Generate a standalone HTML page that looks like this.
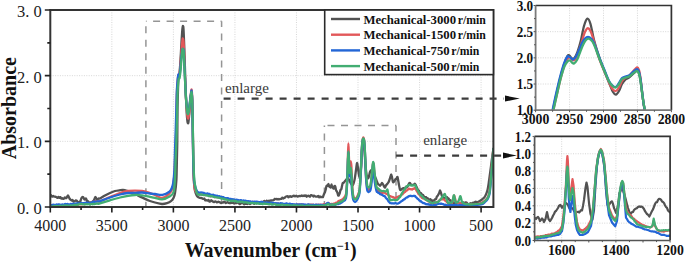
<!DOCTYPE html>
<html><head><meta charset="utf-8"><title>FTIR</title><style>
html,body{margin:0;padding:0;background:#fff;}
body{width:685px;height:262px;overflow:hidden;}
svg{display:block;}
text{font-family:"Liberation Serif", serif;}
</style></head><body>
<svg width="685" height="262" viewBox="0 0 685 262">
<defs>
<clipPath id="cm"><rect x="50.3" y="10" width="443.1" height="197"/></clipPath>
<clipPath id="ct"><rect x="535.6" y="5.5" width="135.8" height="104.7"/></clipPath>
<clipPath id="cb"><rect x="534.6" y="136.4" width="135.5" height="104.1"/></clipPath>
</defs>
<path d="M111.84 10 V207 M173.38 10 V207 M234.93 10 V207 M296.47 10 V207 M358.01 10 V207 M419.55 10 V207 M481.09 10 V207 M50.3 141.33 H493.4 M50.3 75.67 H493.4" stroke="#d2d2d2" stroke-width="0.9" stroke-dasharray="1 1.4" fill="none"/>
<path d="M145.9 21.2 H221.6" stroke="#959595" stroke-width="1.5" stroke-dasharray="7 6.5" fill="none" stroke-dashoffset="6.3"/>
<path d="M145.9 21.2 V207" stroke="#959595" stroke-width="1.5" stroke-dasharray="7 6.5" fill="none" stroke-dashoffset="8.5"/>
<path d="M221.6 21.2 V207" stroke="#959595" stroke-width="1.5" stroke-dasharray="7 6.5" fill="none" stroke-dashoffset="1.2"/>
<path d="M324.6 125.4 H396" stroke="#959595" stroke-width="1.5" stroke-dasharray="7 6.5" fill="none" stroke-dashoffset="10.6"/>
<path d="M324.4 125.4 V207" stroke="#959595" stroke-width="1.5" stroke-dasharray="7 6.5" fill="none" stroke-dashoffset="5.3"/>
<path d="M396 125.4 V207" stroke="#959595" stroke-width="1.5" stroke-dasharray="7 6.5" fill="none" stroke-dashoffset="0.8"/>
<path d="M50 195.5 C50.12 195.43 50.56 194.89 50.8 195.04 C51.04 195.2 51.36 196.3 51.6 196.53 C51.84 196.76 52.16 196.67 52.4 196.57 C52.64 196.47 52.96 195.87 53.2 195.86 C53.44 195.85 53.74 196.37 54 196.5 C54.26 196.63 54.64 196.66 54.92 196.71 C55.19 196.76 55.56 196.74 55.83 196.84 C56.11 196.95 56.48 197.27 56.75 197.42 C57.02 197.58 57.39 197.97 57.67 197.89 C57.94 197.8 58.31 196.87 58.58 196.85 C58.86 196.84 59.23 197.76 59.5 197.8 C59.77 197.84 60.13 196.96 60.4 197.09 C60.67 197.22 61.03 198.53 61.3 198.68 C61.57 198.84 61.93 198.08 62.2 198.1 C62.47 198.12 62.83 198.77 63.1 198.83 C63.37 198.89 63.74 198.71 64 198.5 C64.26 198.29 64.58 197.5 64.83 197.44 C65.08 197.37 65.42 197.98 65.67 198.07 C65.92 198.15 66.15 198.39 66.5 198 C66.85 197.61 67.55 195.43 68 195.5 C68.45 195.57 69.05 197.82 69.5 198.5 C69.95 199.18 70.66 199.69 71 200 C71.34 200.31 71.56 200.61 71.8 200.6 C72.04 200.59 72.36 199.79 72.6 199.91 C72.84 200.03 73.16 201.16 73.4 201.4 C73.64 201.64 73.96 201.58 74.2 201.52 C74.44 201.46 74.75 201.17 75 201 C75.25 200.83 75.58 200.43 75.83 200.37 C76.08 200.31 76.42 200.38 76.67 200.58 C76.92 200.78 77.25 201.41 77.5 201.72 C77.75 202.04 78.08 202.64 78.33 202.66 C78.58 202.68 78.92 201.92 79.17 201.87 C79.42 201.82 79.65 202.88 80 202.3 C80.35 201.72 81.05 198.8 81.5 198 C81.95 197.2 82.55 196.78 83 197 C83.45 197.22 84.05 199.28 84.5 199.5 C84.95 199.72 85.62 198.28 86 198.5 C86.38 198.72 86.7 200.59 87 201 C87.3 201.41 87.7 201.01 88 201.24 C88.3 201.46 88.72 202.28 89 202.5 C89.28 202.72 89.58 202.72 89.83 202.69 C90.08 202.67 90.42 202.2 90.67 202.32 C90.92 202.44 91.22 203.59 91.5 203.5 C91.78 203.41 92.2 202.12 92.5 201.75 C92.8 201.37 93.2 201.43 93.5 201 C93.8 200.57 94.2 199.49 94.5 198.89 C94.8 198.29 95.12 196.91 95.5 197 C95.88 197.09 96.62 199.18 97 199.5 C97.38 199.82 97.7 199.33 98 199.16 C98.3 198.99 98.7 198.45 99 198.35 C99.3 198.25 99.1 198.93 100 198.5 C100.9 198.07 103.5 196.32 105 195.5 C106.5 194.68 108.5 193.68 110 193 C111.5 192.32 113.5 191.42 115 191 C116.5 190.58 118.8 190.35 120 190.2 C121.2 190.05 121.95 189.91 123 190 C124.05 190.09 125.65 190.43 127 190.8 C128.35 191.18 130.5 191.87 132 192.5 C133.5 193.13 135.05 194.04 137 195 C138.95 195.96 143.05 198 145 198.9 C146.95 199.8 148.5 200.46 150 201 C151.5 201.54 153.2 202.05 155 202.5 C156.8 202.95 160.2 203.9 162 204 C163.8 204.1 165.65 203.62 167 203.2 C168.35 202.78 170.03 201.98 171 201.2 C171.97 200.42 172.9 199.23 173.5 198 C174.1 196.77 174.56 195.7 175 193 C175.44 190.3 176.12 184.95 176.4 180 C176.69 175.05 176.77 165.85 176.9 160 C177.03 154.15 177.21 148.5 177.3 141 C177.39 133.5 177.4 117.65 177.5 110 C177.6 102.35 177.85 95.1 178 90 C178.15 84.9 178.29 78.4 178.5 76 C178.71 73.6 179.1 76.4 179.4 74 C179.7 71.6 180.19 64.8 180.5 60 C180.81 55.2 181.23 46.5 181.5 42 C181.77 37.5 182.09 32.4 182.3 30 C182.51 27.6 182.72 26.15 182.9 26 C183.08 25.85 183.31 26.15 183.5 29 C183.69 31.85 183.99 39.45 184.2 45 C184.41 50.55 184.68 59.25 184.9 66 C185.12 72.75 185.44 83.25 185.7 90 C185.95 96.75 186.34 106.35 186.6 111 C186.85 115.65 187.15 119.2 187.4 121 C187.66 122.8 188.02 124.05 188.3 123 C188.59 121.95 189 117.45 189.3 114 C189.6 110.55 189.96 103.38 190.3 100 C190.65 96.62 191.31 91.5 191.6 91.5 C191.88 91.5 192.03 95.72 192.2 100 C192.36 104.28 192.58 113.85 192.7 120 C192.82 126.15 192.88 133.5 193 141 C193.12 148.5 193.28 162.95 193.5 170 C193.72 177.05 194.12 184.4 194.5 188 C194.88 191.6 195.58 192.72 196 194 C196.42 195.28 196.7 195.9 197.3 196.5 C197.9 197.1 199.46 197.8 200 198 C200.54 198.2 200.61 197.79 200.88 197.8 C201.14 197.81 201.49 197.92 201.75 198.07 C202.01 198.22 202.36 198.68 202.62 198.79 C202.89 198.9 203.24 198.8 203.5 198.77 C203.76 198.74 204.11 198.34 204.38 198.58 C204.64 198.81 204.99 200.1 205.25 200.33 C205.51 200.56 205.86 200.12 206.12 200.11 C206.39 200.11 206.75 200.22 207 200.3 C207.25 200.38 207.56 200.72 207.8 200.68 C208.04 200.63 208.36 199.84 208.6 199.97 C208.84 200.11 209.16 201.33 209.4 201.55 C209.64 201.76 209.96 201.63 210.2 201.43 C210.44 201.23 210.76 200.32 211 200.22 C211.24 200.11 211.56 200.52 211.8 200.72 C212.04 200.92 212.36 201.4 212.6 201.54 C212.84 201.68 213.16 201.55 213.4 201.64 C213.64 201.73 213.96 202.19 214.2 202.17 C214.44 202.14 214.75 201.6 215 201.5 C215.25 201.4 215.58 201.35 215.83 201.48 C216.08 201.6 216.42 202.23 216.67 202.33 C216.92 202.43 217.25 202.26 217.5 202.16 C217.75 202.05 218.08 201.6 218.33 201.61 C218.58 201.63 218.92 202.15 219.17 202.24 C219.42 202.33 219.75 202.1 220 202.2 C220.25 202.3 220.58 202.83 220.83 202.94 C221.08 203.05 221.42 203.01 221.67 202.92 C221.92 202.84 222.25 202.41 222.5 202.36 C222.75 202.31 223.08 202.67 223.33 202.56 C223.58 202.45 223.92 201.69 224.17 201.61 C224.42 201.53 224.75 201.82 225 202.04 C225.25 202.26 225.58 203.02 225.83 203.09 C226.08 203.15 226.42 202.6 226.67 202.45 C226.92 202.29 227.25 202.01 227.5 202.06 C227.75 202.11 228.08 202.63 228.33 202.79 C228.58 202.95 228.92 203.11 229.17 203.12 C229.42 203.12 229.75 202.79 230 202.8 C230.25 202.81 230.58 203.18 230.83 203.15 C231.08 203.13 231.42 202.7 231.67 202.65 C231.92 202.6 232.25 202.76 232.5 202.81 C232.75 202.85 233.08 202.87 233.33 202.97 C233.58 203.07 233.92 203.48 234.17 203.5 C234.42 203.51 234.75 203.16 235 203.07 C235.25 202.98 235.58 202.88 235.83 202.88 C236.08 202.88 236.42 203.18 236.67 203.09 C236.92 203.01 237.25 202.41 237.5 202.3 C237.75 202.19 238.08 202.17 238.33 202.37 C238.58 202.56 238.92 203.33 239.17 203.59 C239.42 203.86 239.75 204.15 240 204.14 C240.25 204.12 240.58 203.62 240.83 203.47 C241.08 203.33 241.42 203.26 241.67 203.15 C241.92 203.05 242.25 202.75 242.5 202.79 C242.75 202.83 243.08 203.2 243.33 203.43 C243.58 203.66 243.92 204.32 244.17 204.33 C244.42 204.34 244.75 203.56 245 203.5 C245.25 203.44 245.58 203.95 245.83 203.95 C246.08 203.94 246.42 203.48 246.67 203.49 C246.92 203.5 247.25 204.12 247.5 204.02 C247.75 203.93 248.08 202.96 248.33 202.85 C248.58 202.75 248.92 203.13 249.17 203.32 C249.42 203.5 249.75 204.06 250 204.06 C250.25 204.07 250.58 203.49 250.83 203.35 C251.08 203.2 251.42 203.19 251.67 203.09 C251.92 203 252.25 202.7 252.5 202.71 C252.75 202.72 253.08 203 253.33 203.17 C253.58 203.34 253.92 203.89 254.17 203.86 C254.42 203.84 254.74 203.28 255 203 C255.26 202.72 255.61 201.95 255.88 201.99 C256.14 202.02 256.49 203.08 256.75 203.26 C257.01 203.44 257.36 203.21 257.62 203.2 C257.89 203.19 258.24 203.25 258.5 203.2 C258.76 203.14 259.11 202.87 259.38 202.81 C259.64 202.75 259.99 202.9 260.25 202.81 C260.51 202.71 260.86 202.28 261.12 202.16 C261.39 202.04 261.75 202.03 262 202 C262.25 201.97 262.56 202.05 262.8 201.99 C263.04 201.93 263.36 201.8 263.6 201.63 C263.84 201.45 264.16 200.76 264.4 200.84 C264.64 200.92 264.96 202.08 265.2 202.19 C265.44 202.29 265.76 201.74 266 201.53 C266.24 201.31 266.56 200.79 266.8 200.74 C267.04 200.69 267.36 201.13 267.6 201.17 C267.84 201.21 268.16 201.09 268.4 201.01 C268.64 200.94 268.96 200.69 269.2 200.66 C269.44 200.63 269.76 200.85 270 200.8 C270.24 200.75 270.56 200.39 270.8 200.34 C271.04 200.3 271.36 200.49 271.6 200.51 C271.84 200.53 272.16 200.52 272.4 200.48 C272.64 200.45 272.96 200.38 273.2 200.28 C273.44 200.18 273.76 200.04 274 199.82 C274.24 199.61 274.56 198.99 274.8 198.87 C275.04 198.75 275.36 199.07 275.6 199.05 C275.84 199.04 276.16 198.74 276.4 198.78 C276.64 198.82 276.96 199.3 277.2 199.33 C277.44 199.37 277.75 198.98 278 199 C278.25 199.02 278.61 199.44 278.88 199.46 C279.14 199.49 279.49 199.24 279.75 199.16 C280.01 199.09 280.36 199.02 280.62 198.97 C280.89 198.92 281.24 199.02 281.5 198.82 C281.76 198.62 282.11 197.67 282.38 197.62 C282.64 197.57 282.99 198.43 283.25 198.49 C283.51 198.55 283.86 198.15 284.12 198 C284.39 197.85 284.74 197.71 285 197.5 C285.26 197.29 285.61 196.79 285.88 196.62 C286.14 196.46 286.49 196.44 286.75 196.38 C287.01 196.32 287.36 196.09 287.62 196.25 C287.89 196.41 288.24 197.43 288.5 197.46 C288.76 197.49 289.11 196.64 289.38 196.42 C289.64 196.21 289.99 195.98 290.25 196.05 C290.51 196.11 290.86 196.78 291.12 196.85 C291.39 196.92 291.75 196.6 292 196.5 C292.25 196.4 292.56 196.32 292.8 196.19 C293.04 196.06 293.36 195.72 293.6 195.67 C293.84 195.61 294.16 195.68 294.4 195.8 C294.64 195.91 294.96 196.44 295.2 196.43 C295.44 196.42 295.76 195.83 296 195.75 C296.24 195.67 296.56 195.77 296.8 195.91 C297.04 196.05 297.36 196.63 297.6 196.67 C297.84 196.71 298.16 196.29 298.4 196.18 C298.64 196.06 298.96 195.91 299.2 195.91 C299.44 195.91 299.75 196.17 300 196.2 C300.25 196.23 300.58 196.26 300.83 196.12 C301.08 195.98 301.42 195.31 301.67 195.28 C301.92 195.24 302.25 195.8 302.5 195.9 C302.75 195.99 303.08 195.99 303.33 195.92 C303.58 195.86 303.92 195.46 304.17 195.47 C304.42 195.48 304.75 196.02 305 196 C305.25 195.98 305.58 195.2 305.83 195.31 C306.08 195.43 306.42 196.64 306.67 196.75 C306.92 196.87 307.25 196.25 307.5 196.07 C307.75 195.89 308.08 195.51 308.33 195.54 C308.58 195.57 308.92 196.1 309.17 196.27 C309.42 196.44 309.75 196.82 310 196.67 C310.25 196.52 310.58 195.46 310.83 195.25 C311.08 195.04 311.42 195.23 311.67 195.27 C311.92 195.3 312.25 195.32 312.5 195.51 C312.75 195.71 313.08 196.55 313.33 196.56 C313.58 196.57 313.92 195.63 314.17 195.57 C314.42 195.52 314.75 196.04 315 196.2 C315.25 196.36 315.58 196.56 315.83 196.62 C316.08 196.68 316.42 196.65 316.67 196.62 C316.92 196.59 317.25 196.54 317.5 196.43 C317.75 196.32 318.08 195.77 318.33 195.9 C318.58 196.03 318.92 197.22 319.17 197.31 C319.42 197.4 319.73 196.52 320 196.5 C320.27 196.48 320.7 197.15 321 197.2 C321.3 197.26 321.7 196.89 322 196.86 C322.3 196.83 322.7 197.43 323 197 C323.3 196.57 323.7 194.75 324 194 C324.3 193.25 324.74 192.68 325 192 C325.26 191.32 325.52 190.34 325.75 189.44 C325.98 188.54 326.24 186.54 326.5 186 C326.76 185.46 327.2 186.17 327.5 185.87 C327.8 185.57 328.24 183.9 328.5 184 C328.76 184.1 329.02 186.11 329.25 186.56 C329.48 187.01 329.77 186.88 330 187 C330.23 187.12 330.52 187.72 330.75 187.34 C330.98 186.97 331.27 184.53 331.5 184.5 C331.73 184.47 332.02 186.59 332.25 187.11 C332.48 187.64 332.77 187.79 333 188 C333.23 188.21 333.52 188.82 333.75 188.52 C333.98 188.22 334.27 186.33 334.5 186 C334.73 185.67 335.02 185.7 335.25 186.3 C335.48 186.9 335.77 189.24 336 190 C336.23 190.76 336.52 190.93 336.75 191.38 C336.98 191.83 337.27 192.37 337.5 193 C337.73 193.63 338.02 195.3 338.25 195.6 C338.48 195.9 338.77 195.38 339 195 C339.23 194.62 339.52 193.79 339.75 193.04 C339.98 192.29 340.27 190.54 340.5 190 C340.73 189.46 341.02 190.04 341.25 189.44 C341.48 188.84 341.77 186.95 342 186 C342.23 185.05 342.52 183.56 342.75 183.11 C342.98 182.66 343.09 183.39 343.5 183 C343.91 182.61 344.82 181.25 345.5 180.5 C346.18 179.75 347.32 177.78 348 178 C348.68 178.22 349.32 180.88 350 182 C350.68 183.12 351.82 185.8 352.5 185.5 C353.18 185.2 353.98 182.32 354.5 180 C355.02 177.68 355.62 172.55 356 170 C356.38 167.45 356.7 163.3 357 163 C357.3 162.7 357.62 165.75 358 168 C358.38 170.25 359.05 178 359.5 178 C359.95 178 360.62 172.2 361 168 C361.38 163.8 361.67 153.9 362 150 C362.33 146.1 362.85 142.3 363.2 142 C363.55 141.7 363.95 144.55 364.3 148 C364.65 151.45 365.1 160.65 365.5 165 C365.9 169.35 366.55 175.05 367 177 C367.45 178.95 368.05 178.75 368.5 178 C368.95 177.25 369.55 173.2 370 172 C370.45 170.8 371.05 170.3 371.5 170 C371.95 169.7 372.55 169.25 373 170 C373.45 170.75 374.05 173.65 374.5 175 C374.95 176.35 375.62 177.98 376 179 C376.38 180.02 376.7 181.02 377 181.77 C377.3 182.52 377.7 183.56 378 184 C378.3 184.44 378.7 184.44 379 184.71 C379.3 184.98 379.7 185.83 380 185.8 C380.3 185.77 380.7 184.96 381 184.54 C381.3 184.12 381.7 183.04 382 183 C382.3 182.96 382.7 183.74 383 184.24 C383.3 184.75 383.7 185.85 384 186.37 C384.3 186.89 384.7 187.85 385 187.7 C385.3 187.55 385.7 185.86 386 185.34 C386.3 184.81 386.7 184.56 387 184.2 C387.3 183.85 387.69 183.49 388 183 C388.31 182.51 388.75 181.71 389.07 180.94 C389.39 180.17 389.81 178.87 390.13 177.88 C390.45 176.88 390.9 174.31 391.2 174.3 C391.5 174.29 391.83 176.65 392.1 177.8 C392.37 178.96 392.72 181.42 393 182 C393.28 182.58 393.7 181.95 394 181.65 C394.3 181.35 394.73 180.45 395 180 C395.27 179.55 395.58 178.84 395.83 178.66 C396.08 178.48 396.42 179.04 396.67 178.79 C396.92 178.54 397.15 176.07 397.5 177 C397.85 177.93 398.62 183.11 399 185 C399.38 186.89 399.73 188.87 400 189.6 C400.27 190.33 400.58 189.94 400.83 189.87 C401.08 189.8 401.42 189.3 401.67 189.12 C401.92 188.93 402.25 188.81 402.5 188.65 C402.75 188.49 403.08 187.93 403.33 188.05 C403.58 188.17 403.92 189.37 404.17 189.45 C404.42 189.53 404.75 188.99 405 188.6 C405.25 188.21 405.58 187.03 405.83 186.83 C406.08 186.64 406.42 187.34 406.67 187.31 C406.92 187.28 407.25 186.98 407.5 186.63 C407.75 186.28 408.08 185.49 408.33 184.99 C408.58 184.5 408.92 183.64 409.17 183.34 C409.42 183.04 409.75 182.85 410 183 C410.25 183.15 410.58 184 410.83 184.33 C411.08 184.66 411.42 185.09 411.67 185.19 C411.92 185.29 412.25 185.03 412.5 185 C412.75 184.97 413.08 185.08 413.33 184.97 C413.58 184.85 413.92 184.39 414.17 184.22 C414.42 184.04 414.73 183.59 415 183.8 C415.27 184.01 415.7 185.07 416 185.65 C416.3 186.23 416.7 187 417 187.66 C417.3 188.31 417.73 189.58 418 190 C418.27 190.42 418.56 190.12 418.8 190.47 C419.04 190.82 419.36 191.95 419.6 192.31 C419.84 192.67 420.16 192.71 420.4 192.88 C420.64 193.05 420.96 193.13 421.2 193.45 C421.44 193.77 421.73 194.77 422 195 C422.27 195.23 422.7 194.71 423 194.95 C423.3 195.2 423.7 196.33 424 196.63 C424.3 196.94 424.72 196.92 425 197 C425.28 197.08 425.61 196.98 425.88 197.13 C426.14 197.28 426.49 197.84 426.75 198 C427.01 198.16 427.36 197.94 427.62 198.19 C427.89 198.44 428.24 199.36 428.5 199.67 C428.76 199.97 429.11 200.3 429.38 200.22 C429.64 200.14 429.99 199.17 430.25 199.13 C430.51 199.09 430.86 199.68 431.12 199.96 C431.39 200.24 431.75 200.95 432 201 C432.25 201.05 432.56 200.28 432.8 200.29 C433.04 200.3 433.36 201.07 433.6 201.08 C433.84 201.08 434.16 200.6 434.4 200.31 C434.64 200.01 434.96 199.31 435.2 199.11 C435.44 198.91 435.76 199.35 436 199 C436.24 198.65 436.56 197.25 436.8 196.78 C437.04 196.32 437.36 196.26 437.6 195.91 C437.84 195.57 438.16 194.95 438.4 194.51 C438.64 194.07 438.96 193.58 439.2 192.98 C439.44 192.38 439.73 190.5 440 190.5 C440.27 190.5 440.7 192.14 441 192.97 C441.3 193.79 441.7 195.29 442 196 C442.3 196.71 442.7 197.39 443 197.69 C443.3 197.99 443.7 197.95 444 198 C444.3 198.05 444.7 198.11 445 198 C445.3 197.9 445.7 197.46 446 197.31 C446.3 197.15 446.73 196.76 447 197 C447.27 197.24 447.58 198.65 447.83 198.87 C448.08 199.1 448.42 198.29 448.67 198.52 C448.92 198.75 449.25 200.15 449.5 200.41 C449.75 200.67 450.08 200.1 450.33 200.25 C450.58 200.4 450.92 200.99 451.17 201.41 C451.42 201.82 451.75 202.65 452 203 C452.25 203.35 452.56 203.82 452.8 203.74 C453.04 203.66 453.36 202.52 453.6 202.48 C453.84 202.44 454.16 203.36 454.4 203.47 C454.64 203.57 454.96 203.16 455.2 203.18 C455.44 203.2 455.76 203.68 456 203.61 C456.24 203.55 456.56 202.9 456.8 202.76 C457.04 202.63 457.36 202.73 457.6 202.71 C457.84 202.69 458.16 202.48 458.4 202.62 C458.64 202.77 458.96 203.6 459.2 203.66 C459.44 203.72 459.75 203.06 460 203 C460.25 202.94 460.58 203.09 460.83 203.23 C461.08 203.36 461.42 203.81 461.67 203.9 C461.92 203.99 462.25 204.03 462.5 203.82 C462.75 203.61 463.08 202.59 463.33 202.51 C463.58 202.43 463.92 203.3 464.17 203.3 C464.42 203.3 464.75 202.66 465 202.54 C465.25 202.41 465.58 202.46 465.83 202.46 C466.08 202.47 466.42 202.33 466.67 202.57 C466.92 202.8 467.25 203.83 467.5 204.03 C467.75 204.24 468.08 203.93 468.33 203.94 C468.58 203.94 468.92 204.11 469.17 204.05 C469.42 203.98 469.75 203.65 470 203.5 C470.25 203.35 470.56 203.08 470.8 203.06 C471.04 203.05 471.36 203.33 471.6 203.41 C471.84 203.48 472.16 203.67 472.4 203.56 C472.64 203.45 472.96 202.78 473.2 202.68 C473.44 202.58 473.76 202.96 474 202.88 C474.24 202.79 474.56 202.28 474.8 202.1 C475.04 201.93 475.36 201.73 475.6 201.7 C475.84 201.66 476.16 201.71 476.4 201.88 C476.64 202.05 476.96 202.84 477.2 202.85 C477.44 202.87 477.28 202.5 478 202 C478.72 201.5 480.95 200.32 482 199.5 C483.05 198.68 484.18 197.93 485 196.5 C485.82 195.07 486.9 192.32 487.5 190 C488.1 187.68 488.55 184 489 181 C489.45 178 490.08 173.15 490.5 170 C490.92 166.85 491.35 163.3 491.8 160 C492.25 156.7 493.25 149.8 493.5 148" stroke="#525252" stroke-width="2.3" fill="none" stroke-linejoin="round" clip-path="url(#cm)"/>
<path d="M50 205.8 C50.12 205.77 50.57 205.64 50.81 205.59 C51.05 205.54 51.37 205.42 51.62 205.46 C51.86 205.49 52.18 205.82 52.42 205.82 C52.67 205.83 52.99 205.51 53.23 205.5 C53.47 205.48 53.8 205.75 54.04 205.73 C54.28 205.71 54.6 205.34 54.85 205.37 C55.09 205.4 55.41 205.88 55.65 205.92 C55.9 205.97 56.22 205.76 56.46 205.68 C56.7 205.59 57.03 205.45 57.27 205.38 C57.51 205.31 57.83 205.14 58.08 205.19 C58.32 205.23 58.64 205.62 58.88 205.7 C59.13 205.78 59.45 205.77 59.69 205.71 C59.93 205.65 60.26 205.38 60.5 205.29 C60.74 205.19 61.07 205.04 61.31 205.09 C61.55 205.15 61.87 205.6 62.12 205.67 C62.36 205.75 62.68 205.65 62.92 205.58 C63.17 205.52 63.49 205.34 63.73 205.25 C63.97 205.16 64.3 204.95 64.54 204.97 C64.78 204.99 65.1 205.31 65.35 205.39 C65.59 205.47 65.91 205.57 66.15 205.51 C66.4 205.46 66.72 205.09 66.96 205.01 C67.2 204.94 67.53 204.98 67.77 205.03 C68.01 205.08 68.33 205.32 68.58 205.35 C68.82 205.38 69.14 205.24 69.38 205.24 C69.63 205.23 69.95 205.36 70.19 205.32 C70.43 205.29 70.76 205.04 71 205 C71.24 204.96 71.56 205.07 71.8 205.03 C72.04 204.98 72.36 204.68 72.6 204.69 C72.84 204.71 73.16 205.09 73.4 205.14 C73.64 205.18 73.96 205 74.2 204.98 C74.44 204.95 74.76 205.02 75 204.96 C75.24 204.89 75.56 204.6 75.8 204.52 C76.04 204.45 76.36 204.39 76.6 204.44 C76.84 204.49 77.16 204.8 77.4 204.85 C77.64 204.9 77.96 204.87 78.2 204.76 C78.44 204.65 78.76 204.23 79 204.12 C79.24 204.01 79.56 204.06 79.8 204.05 C80.04 204.03 80.36 203.98 80.6 204.02 C80.84 204.07 81.16 204.34 81.4 204.33 C81.64 204.33 81.96 204.06 82.2 203.99 C82.44 203.92 82.76 203.86 83 203.87 C83.24 203.88 83.56 203.99 83.8 204.05 C84.04 204.12 84.36 204.33 84.6 204.3 C84.84 204.28 85.16 204.02 85.4 203.91 C85.64 203.8 85.96 203.58 86.2 203.57 C86.44 203.55 86.73 203.78 87 203.8 C87.27 203.82 87.7 203.66 88 203.68 C88.3 203.7 88.7 203.85 89 203.93 C89.3 204 89.73 204.26 90 204.2 C90.27 204.14 90.56 203.74 90.8 203.54 C91.04 203.35 91.36 203.1 91.6 202.92 C91.84 202.73 92.16 202.44 92.4 202.29 C92.64 202.14 92.96 202.05 93.2 201.93 C93.44 201.81 93.75 201.6 94 201.5 C94.25 201.4 94.6 201.31 94.86 201.27 C95.11 201.23 95.46 201.26 95.71 201.24 C95.97 201.21 96.31 201.09 96.57 201.12 C96.83 201.15 97.17 201.37 97.43 201.43 C97.69 201.49 98.03 201.57 98.29 201.54 C98.54 201.51 98.89 201.26 99.14 201.22 C99.4 201.19 98.37 201.93 100 201.3 C101.63 200.67 107 198.25 110 197 C113 195.75 117.3 193.9 120 193 C122.7 192.1 125.75 191.36 128 191 C130.25 190.64 132.9 190.6 135 190.6 C137.1 190.6 140.2 190.79 142 191 C143.8 191.21 145.05 191.4 147 192 C148.95 192.6 152.75 194.13 155 195 C157.25 195.87 159.9 197.95 162 197.8 C164.1 197.65 167.41 195.47 169 194 C170.59 192.53 171.81 190.85 172.6 188 C173.39 185.15 173.94 179.2 174.3 175 C174.66 170.8 174.76 165.1 175 160 C175.24 154.9 175.69 147 175.9 141 C176.11 135 176.27 126.9 176.4 120 C176.53 113.1 176.61 101 176.8 95 C177 89 177.44 83 177.7 80 C177.95 77 178.25 75.75 178.5 75 C178.75 74.25 179.1 76.65 179.4 75 C179.7 73.35 180.19 67.75 180.5 64 C180.81 60.25 181.2 53.6 181.5 50 C181.8 46.4 182.29 41.73 182.5 40 C182.71 38.27 182.75 38.35 182.9 38.5 C183.05 38.65 183.31 38.67 183.5 41 C183.69 43.33 183.99 49.05 184.2 54 C184.41 58.95 184.68 68 184.9 74 C185.12 80 185.44 88.9 185.7 94 C185.95 99.1 186.34 104.7 186.6 108 C186.85 111.3 187.16 114.42 187.4 116 C187.64 117.58 187.91 119.1 188.2 118.5 C188.48 117.9 188.96 115.22 189.3 112 C189.65 108.78 190.16 100.38 190.5 97 C190.84 93.62 191.33 89.05 191.6 89.5 C191.87 89.95 192.12 93.92 192.3 100 C192.48 106.08 192.67 121 192.8 130 C192.94 139 193.05 152.5 193.2 160 C193.35 167.5 193.53 175.5 193.8 180 C194.07 184.5 194.47 188.05 195 190 C195.53 191.95 196.55 192.32 197.3 193 C198.05 193.68 199.46 194.31 200 194.5 C200.54 194.69 200.61 194.28 200.88 194.29 C201.14 194.3 201.49 194.56 201.75 194.57 C202.01 194.59 202.36 194.4 202.62 194.39 C202.89 194.38 203.24 194.46 203.5 194.49 C203.76 194.53 204.11 194.55 204.38 194.65 C204.64 194.75 204.99 195.16 205.25 195.16 C205.51 195.15 205.86 194.65 206.12 194.63 C206.39 194.6 206.75 194.92 207 195 C207.25 195.08 207.56 195.18 207.8 195.19 C208.04 195.2 208.36 195.01 208.6 195.06 C208.84 195.11 209.16 195.34 209.4 195.5 C209.64 195.66 209.96 196.03 210.2 196.14 C210.44 196.25 210.76 196.23 211 196.24 C211.24 196.25 211.56 196.18 211.8 196.18 C212.04 196.18 212.36 196.2 212.6 196.23 C212.84 196.27 213.16 196.35 213.4 196.43 C213.64 196.52 213.96 196.75 214.2 196.83 C214.44 196.92 214.75 196.97 215 197 C215.25 197.03 215.58 197.04 215.83 197.04 C216.08 197.04 216.42 197.02 216.67 197 C216.92 196.98 217.25 196.84 217.5 196.92 C217.75 197 218.08 197.4 218.33 197.53 C218.58 197.66 218.92 197.77 219.17 197.77 C219.42 197.76 219.75 197.47 220 197.5 C220.25 197.53 220.58 197.94 220.83 197.99 C221.08 198.04 221.42 197.85 221.67 197.84 C221.92 197.83 222.25 197.92 222.5 197.93 C222.75 197.94 223.08 197.79 223.33 197.9 C223.58 198.01 223.92 198.59 224.17 198.68 C224.42 198.76 224.75 198.5 225 198.46 C225.25 198.41 225.58 198.26 225.83 198.37 C226.08 198.47 226.42 199.05 226.67 199.16 C226.92 199.27 227.25 199.08 227.5 199.11 C227.75 199.13 228.08 199.3 228.33 199.34 C228.58 199.37 228.92 199.33 229.17 199.36 C229.42 199.38 229.75 199.49 230 199.5 C230.25 199.51 230.56 199.34 230.8 199.4 C231.04 199.46 231.36 199.83 231.6 199.91 C231.84 200 232.16 199.97 232.4 199.97 C232.64 199.97 232.96 199.86 233.2 199.91 C233.44 199.96 233.76 200.31 234 200.31 C234.24 200.3 234.56 199.84 234.8 199.88 C235.04 199.91 235.36 200.45 235.6 200.52 C235.84 200.59 236.16 200.42 236.4 200.36 C236.64 200.3 236.96 200.07 237.2 200.13 C237.44 200.18 237.76 200.63 238 200.74 C238.24 200.84 238.56 200.83 238.8 200.85 C239.04 200.88 239.36 200.94 239.6 200.92 C239.84 200.91 240.16 200.75 240.4 200.76 C240.64 200.77 240.96 200.93 241.2 200.97 C241.44 201.02 241.76 201.03 242 201.07 C242.24 201.12 242.56 201.24 242.8 201.25 C243.04 201.26 243.36 201.17 243.6 201.14 C243.84 201.11 244.16 201.01 244.4 201.03 C244.64 201.06 244.96 201.23 245.2 201.29 C245.44 201.34 245.76 201.4 246 201.4 C246.24 201.4 246.56 201.27 246.8 201.28 C247.04 201.29 247.36 201.38 247.6 201.47 C247.84 201.57 248.16 201.85 248.4 201.92 C248.64 201.98 248.96 201.9 249.2 201.91 C249.44 201.92 249.76 202.01 250 202 C250.24 201.99 250.57 201.78 250.81 201.84 C251.05 201.89 251.38 202.35 251.62 202.35 C251.86 202.35 252.19 201.92 252.43 201.85 C252.68 201.77 253 201.79 253.24 201.87 C253.49 201.95 253.81 202.27 254.05 202.38 C254.3 202.49 254.62 202.56 254.86 202.6 C255.11 202.64 255.43 202.64 255.68 202.63 C255.92 202.62 256.24 202.56 256.49 202.53 C256.73 202.5 257.05 202.48 257.3 202.45 C257.54 202.43 257.86 202.3 258.11 202.37 C258.35 202.44 258.68 202.84 258.92 202.9 C259.16 202.96 259.49 202.82 259.73 202.76 C259.97 202.7 260.3 202.45 260.54 202.49 C260.78 202.53 261.11 202.95 261.35 203.02 C261.59 203.1 261.92 202.96 262.16 202.98 C262.41 203.01 262.73 203.22 262.97 203.19 C263.22 203.17 263.54 202.87 263.78 202.83 C264.03 202.79 264.35 202.89 264.59 202.93 C264.84 202.97 265.16 203.08 265.41 203.08 C265.65 203.08 265.97 202.95 266.22 202.94 C266.46 202.93 266.78 202.91 267.03 202.99 C267.27 203.08 267.59 203.42 267.84 203.49 C268.08 203.56 268.41 203.46 268.65 203.47 C268.89 203.48 269.22 203.56 269.46 203.57 C269.7 203.58 270.03 203.54 270.27 203.53 C270.51 203.52 270.84 203.57 271.08 203.51 C271.32 203.45 271.65 203.1 271.89 203.14 C272.14 203.17 272.46 203.7 272.7 203.74 C272.95 203.77 273.27 203.36 273.51 203.36 C273.76 203.35 274.08 203.65 274.32 203.71 C274.57 203.78 274.89 203.81 275.14 203.78 C275.38 203.75 275.7 203.5 275.95 203.52 C276.19 203.54 276.51 203.93 276.76 203.93 C277 203.94 277.32 203.59 277.57 203.54 C277.81 203.5 278.14 203.53 278.38 203.62 C278.62 203.71 278.95 204.07 279.19 204.13 C279.43 204.19 279.76 204.03 280 204 C280.24 203.97 280.56 203.9 280.8 203.9 C281.04 203.91 281.36 204.02 281.6 204.06 C281.84 204.1 282.16 204.17 282.4 204.18 C282.64 204.19 282.96 204.11 283.2 204.14 C283.44 204.17 283.76 204.35 284 204.39 C284.24 204.42 284.56 204.44 284.8 204.39 C285.04 204.33 285.36 204.09 285.6 204.03 C285.84 203.96 286.16 203.91 286.4 203.94 C286.64 203.97 286.96 204.14 287.2 204.24 C287.44 204.33 287.76 204.6 288 204.58 C288.24 204.57 288.56 204.13 288.8 204.13 C289.04 204.12 289.36 204.51 289.6 204.54 C289.84 204.57 290.16 204.31 290.4 204.33 C290.64 204.36 290.96 204.74 291.2 204.71 C291.44 204.68 291.76 204.18 292 204.11 C292.24 204.04 292.56 204.15 292.8 204.24 C293.04 204.32 293.36 204.58 293.6 204.67 C293.84 204.76 294.16 204.81 294.4 204.84 C294.64 204.87 294.96 204.85 295.2 204.85 C295.44 204.84 295.76 204.87 296 204.81 C296.24 204.75 296.56 204.46 296.8 204.44 C297.04 204.41 297.36 204.66 297.6 204.64 C297.84 204.62 298.16 204.3 298.4 204.3 C298.64 204.3 298.96 204.59 299.2 204.65 C299.44 204.71 299.76 204.69 300 204.7 C300.24 204.71 300.56 204.75 300.8 204.71 C301.04 204.67 301.36 204.47 301.6 204.44 C301.84 204.41 302.16 204.43 302.4 204.52 C302.64 204.6 302.96 204.97 303.2 205.01 C303.44 205.05 303.76 204.8 304 204.78 C304.24 204.77 304.56 204.85 304.8 204.89 C305.04 204.93 305.36 205 305.6 205.03 C305.84 205.06 306.16 205.09 306.4 205.1 C306.64 205.12 306.96 205.19 307.2 205.12 C307.44 205.05 307.76 204.67 308 204.64 C308.24 204.6 308.56 204.92 308.8 204.91 C309.04 204.9 309.36 204.58 309.6 204.55 C309.84 204.51 310.16 204.64 310.4 204.67 C310.64 204.71 310.96 204.8 311.2 204.78 C311.44 204.77 311.76 204.58 312 204.56 C312.24 204.54 312.56 204.56 312.8 204.63 C313.04 204.7 313.36 204.92 313.6 205 C313.84 205.08 314.16 205.16 314.4 205.14 C314.64 205.11 314.96 204.91 315.2 204.84 C315.44 204.78 315.76 204.67 316 204.7 C316.24 204.73 316.56 205.05 316.8 205.06 C317.04 205.06 317.36 204.69 317.6 204.72 C317.84 204.75 318.16 205.25 318.4 205.24 C318.64 205.23 318.96 204.69 319.2 204.65 C319.44 204.62 319.75 205 320 205 C320.25 205 320.6 204.66 320.86 204.66 C321.11 204.67 321.46 205 321.71 205 C321.97 205.01 322.31 204.82 322.57 204.72 C322.83 204.61 323.17 204.41 323.43 204.3 C323.69 204.19 324.03 203.99 324.29 203.98 C324.54 203.98 324.89 204.24 325.14 204.24 C325.4 204.25 325.72 204.12 326 204 C326.28 203.88 326.7 203.62 327 203.47 C327.3 203.32 327.7 203.02 328 203 C328.3 202.98 328.7 203.14 329 203.34 C329.3 203.53 329.73 204.13 330 204.3 C330.27 204.47 330.58 204.55 330.83 204.46 C331.08 204.38 331.42 203.81 331.67 203.76 C331.92 203.7 332.25 204.08 332.5 204.08 C332.75 204.08 333.08 203.81 333.33 203.75 C333.58 203.7 333.92 203.78 334.17 203.75 C334.42 203.71 334.75 203.65 335 203.5 C335.25 203.35 335.58 202.83 335.83 202.72 C336.08 202.61 336.42 202.81 336.67 202.75 C336.92 202.7 337.25 202.58 337.5 202.34 C337.75 202.1 338.08 201.37 338.33 201.16 C338.58 200.94 338.92 201 339.17 200.9 C339.42 200.8 339.73 200.62 340 200.5 C340.27 200.38 340.7 200.24 341 200.09 C341.3 199.95 341.7 199.7 342 199.54 C342.3 199.37 342.4 199.83 343 199 C343.6 198.17 345.37 197.15 346 194 C346.63 190.85 346.91 183.7 347.2 178 C347.49 172.3 347.72 161.19 347.9 156 C348.08 150.81 348.25 143.4 348.4 143.4 C348.55 143.4 348.73 152.31 348.9 156 C349.06 159.69 349.32 166.5 349.5 168 C349.68 169.5 349.91 167 350.1 166 C350.3 165 350.61 161.3 350.8 161.3 C351 161.3 351.19 162.44 351.4 166 C351.61 169.56 351.91 180.5 352.2 185 C352.49 189.5 352.84 193.97 353.3 196 C353.76 198.03 354.67 198.5 355.3 198.5 C355.93 198.5 356.87 197.28 357.5 196 C358.13 194.72 359 193.6 359.5 190 C360 186.4 360.45 178 360.8 172 C361.15 166 361.53 154.8 361.8 150 C362.07 145.2 362.38 141.88 362.6 140 C362.83 138.12 363.07 137.5 363.3 137.5 C363.53 137.5 363.86 137.82 364.1 140 C364.34 142.18 364.63 146.75 364.9 152 C365.17 157.25 365.55 169.6 365.9 175 C366.25 180.4 366.81 185.75 367.2 188 C367.59 190.25 368 190.3 368.5 190 C369 189.7 369.94 188.7 370.5 186 C371.06 183.3 371.85 175.15 372.2 172 C372.55 168.85 372.63 166.35 372.8 165 C372.97 163.65 373.13 162.7 373.3 163 C373.47 163.3 373.67 164.75 373.9 167 C374.12 169.25 374.41 174.7 374.8 178 C375.19 181.3 376.11 187.18 376.5 189 C376.89 190.82 377.11 189.87 377.38 190.14 C377.64 190.4 377.99 190.57 378.25 190.77 C378.51 190.98 378.86 191.26 379.12 191.51 C379.39 191.77 379.74 192.29 380 192.5 C380.26 192.71 380.58 192.93 380.83 192.93 C381.08 192.94 381.42 192.54 381.67 192.53 C381.92 192.52 382.25 192.81 382.5 192.84 C382.75 192.86 383.08 192.75 383.33 192.71 C383.58 192.67 383.92 192.54 384.17 192.58 C384.42 192.62 384.75 192.86 385 193 C385.25 193.14 385.58 193.4 385.83 193.55 C386.08 193.69 386.42 193.85 386.67 193.95 C386.92 194.04 387.25 193.97 387.5 194.16 C387.75 194.36 388.08 195.01 388.33 195.23 C388.58 195.45 388.92 195.5 389.17 195.62 C389.42 195.73 389.75 195.86 390 196 C390.25 196.14 390.58 196.42 390.83 196.52 C391.08 196.62 391.42 196.58 391.67 196.67 C391.92 196.75 392.25 197.01 392.5 197.08 C392.75 197.16 393.08 197.07 393.33 197.16 C393.58 197.24 393.92 197.53 394.17 197.66 C394.42 197.79 394.75 197.99 395 198 C395.25 198.01 395.58 197.84 395.83 197.74 C396.08 197.64 396.42 197.44 396.67 197.33 C396.92 197.22 397.25 197.11 397.5 197 C397.75 196.89 398.08 196.73 398.33 196.6 C398.58 196.47 398.92 196.2 399.17 196.11 C399.42 196.02 399.75 196.15 400 196 C400.25 195.85 400.58 195.35 400.83 195.12 C401.08 194.9 401.42 194.63 401.67 194.51 C401.92 194.39 402.25 194.54 402.5 194.33 C402.75 194.12 403.08 193.37 403.33 193.1 C403.58 192.83 403.92 192.71 404.17 192.55 C404.42 192.38 404.75 192.23 405 192 C405.25 191.77 405.56 191.24 405.8 191.02 C406.04 190.8 406.36 190.66 406.6 190.53 C406.84 190.39 407.16 190.31 407.4 190.1 C407.64 189.88 407.96 189.34 408.2 189.12 C408.44 188.89 408.73 188.58 409 188.6 C409.27 188.62 409.7 189.15 410 189.23 C410.3 189.31 410.7 189.08 411 189.12 C411.3 189.16 411.7 189.56 412 189.5 C412.3 189.44 412.7 188.85 413 188.74 C413.3 188.63 413.7 188.86 414 188.75 C414.3 188.64 414.7 187.88 415 188 C415.3 188.12 415.7 189.04 416 189.54 C416.3 190.03 416.7 190.79 417 191.31 C417.3 191.82 417.73 192.56 418 193 C418.27 193.44 418.56 193.95 418.8 194.24 C419.04 194.52 419.36 194.58 419.6 194.87 C419.84 195.17 420.16 195.94 420.4 196.21 C420.64 196.48 420.96 196.43 421.2 196.7 C421.44 196.96 421.73 197.76 422 198 C422.27 198.24 422.7 198.23 423 198.31 C423.3 198.38 423.7 198.37 424 198.48 C424.3 198.58 424.72 198.79 425 199 C425.28 199.21 425.61 199.7 425.88 199.85 C426.14 200.01 426.49 199.86 426.75 200.02 C427.01 200.17 427.36 200.68 427.62 200.89 C427.89 201.1 428.24 201.3 428.5 201.4 C428.76 201.5 429.11 201.37 429.38 201.56 C429.64 201.75 429.99 202.42 430.25 202.65 C430.51 202.88 430.86 202.97 431.12 203.1 C431.39 203.22 431.74 203.49 432 203.5 C432.26 203.51 432.6 203.29 432.86 203.18 C433.11 203.07 433.46 202.76 433.71 202.76 C433.97 202.76 434.31 203.18 434.57 203.17 C434.83 203.15 435.17 202.82 435.43 202.66 C435.69 202.5 436.03 202.19 436.29 202.11 C436.54 202.02 436.89 202.14 437.14 202.12 C437.4 202.1 437.72 202.2 438 202 C438.28 201.8 438.7 201.13 439 200.8 C439.3 200.47 439.7 200.09 440 199.82 C440.3 199.55 440.7 199.08 441 199 C441.3 198.92 441.7 199.22 442 199.28 C442.3 199.34 442.7 199.37 443 199.4 C443.3 199.43 443.73 199.37 444 199.5 C444.27 199.63 444.56 200.01 444.8 200.25 C445.04 200.5 445.36 200.99 445.6 201.16 C445.84 201.32 446.16 201.17 446.4 201.36 C446.64 201.56 446.96 202.21 447.2 202.46 C447.44 202.7 447.76 202.92 448 203 C448.24 203.08 448.56 203 448.8 203 C449.04 202.99 449.36 202.92 449.6 202.95 C449.84 202.99 450.16 203.22 450.4 203.24 C450.64 203.27 450.96 203.17 451.2 203.14 C451.44 203.1 451.73 203.59 452 203 C452.27 202.41 452.7 200.3 453 199.18 C453.3 198.05 453.7 195.61 454 195.5 C454.3 195.39 454.7 197.47 455 198.44 C455.3 199.42 455.73 201.4 456 202 C456.27 202.6 456.56 202.33 456.8 202.42 C457.04 202.5 457.36 202.51 457.6 202.57 C457.84 202.64 458.16 202.76 458.4 202.83 C458.64 202.91 458.96 203.07 459.2 203.09 C459.44 203.12 459.75 202.95 460 203 C460.25 203.05 460.58 203.41 460.83 203.45 C461.08 203.5 461.42 203.28 461.67 203.3 C461.92 203.31 462.25 203.48 462.5 203.55 C462.75 203.62 463.08 203.71 463.33 203.77 C463.58 203.82 463.92 203.88 464.17 203.92 C464.42 203.95 464.75 203.95 465 204 C465.25 204.05 465.58 204.28 465.83 204.26 C466.08 204.25 466.42 203.88 466.67 203.88 C466.92 203.89 467.25 204.21 467.5 204.27 C467.75 204.33 468.08 204.27 468.33 204.28 C468.58 204.29 468.92 204.31 469.17 204.34 C469.42 204.37 469.75 204.49 470 204.5 C470.25 204.51 470.6 204.41 470.86 204.37 C471.11 204.34 471.46 204.23 471.71 204.3 C471.97 204.36 472.31 204.76 472.57 204.8 C472.83 204.83 473.17 204.55 473.43 204.55 C473.69 204.56 474.03 204.86 474.29 204.84 C474.54 204.83 474.89 204.49 475.14 204.44 C475.4 204.39 475.12 204.72 476 204.5 C476.88 204.28 479.65 203.6 481 203 C482.35 202.4 483.95 201.4 485 200.5 C486.05 199.6 487.32 198.43 488 197 C488.68 195.57 489.11 193.55 489.5 191 C489.89 188.45 490.29 183.45 490.6 180 C490.92 176.55 491.3 171.45 491.6 168 C491.9 164.55 492.32 160 492.6 157 C492.88 154 493.37 149.35 493.5 148" stroke="#e2585a" stroke-width="2.3" fill="none" stroke-linejoin="round" clip-path="url(#cm)"/>
<path d="M50 205 C50.12 204.98 50.58 204.84 50.83 204.87 C51.08 204.89 51.42 205.18 51.67 205.17 C51.92 205.15 52.25 204.89 52.5 204.8 C52.75 204.71 53.08 204.56 53.33 204.56 C53.58 204.56 53.92 204.75 54.17 204.81 C54.42 204.87 54.75 204.95 55 204.96 C55.25 204.97 55.58 204.97 55.83 204.89 C56.08 204.81 56.42 204.46 56.67 204.43 C56.92 204.4 57.25 204.69 57.5 204.7 C57.75 204.7 58.08 204.51 58.33 204.45 C58.58 204.4 58.92 204.29 59.17 204.31 C59.42 204.33 59.75 204.51 60 204.6 C60.25 204.69 60.59 204.88 60.85 204.89 C61.1 204.9 61.44 204.73 61.69 204.65 C61.95 204.57 62.28 204.37 62.54 204.36 C62.79 204.36 63.13 204.58 63.38 204.61 C63.64 204.64 63.98 204.67 64.23 204.57 C64.48 204.48 64.82 204.03 65.08 203.98 C65.33 203.92 65.67 204.18 65.92 204.2 C66.18 204.21 66.52 204.14 66.77 204.09 C67.02 204.04 67.36 203.83 67.62 203.87 C67.87 203.9 68.21 204.24 68.46 204.31 C68.72 204.38 69.05 204.39 69.31 204.35 C69.56 204.31 69.9 204.09 70.15 204.04 C70.41 203.98 70.75 203.98 71 204 C71.25 204.02 71.57 204.18 71.82 204.17 C72.06 204.15 72.39 203.97 72.64 203.9 C72.88 203.84 73.21 203.76 73.45 203.74 C73.7 203.73 74.03 203.77 74.27 203.79 C74.52 203.82 74.85 203.95 75.09 203.9 C75.34 203.85 75.66 203.51 75.91 203.46 C76.15 203.41 76.48 203.6 76.73 203.56 C76.97 203.53 77.3 203.24 77.55 203.23 C77.79 203.21 78.12 203.42 78.36 203.46 C78.61 203.5 78.94 203.52 79.18 203.5 C79.43 203.47 79.75 203.35 80 203.3 C80.25 203.25 80.61 203.22 80.88 203.15 C81.14 203.08 81.49 202.82 81.75 202.85 C82.01 202.87 82.36 203.26 82.62 203.3 C82.89 203.35 83.24 203.17 83.5 203.14 C83.76 203.11 84.11 203.18 84.38 203.09 C84.64 203 84.99 202.54 85.25 202.54 C85.51 202.53 85.86 203.03 86.12 203.04 C86.39 203.05 86.72 202.62 87 202.6 C87.28 202.58 87.7 202.86 88 202.93 C88.3 203 88.7 202.94 89 203.04 C89.3 203.14 89.71 203.62 90 203.6 C90.29 203.58 90.67 203.13 90.95 202.93 C91.23 202.73 91.62 202.36 91.9 202.25 C92.19 202.15 92.56 202.35 92.85 202.24 C93.13 202.13 93.52 201.57 93.8 201.5 C94.08 201.43 94.42 201.74 94.69 201.77 C94.95 201.8 95.31 201.74 95.57 201.7 C95.84 201.66 96.19 201.57 96.46 201.52 C96.72 201.47 97.08 201.4 97.34 201.35 C97.61 201.3 97.96 201.19 98.23 201.2 C98.49 201.2 98.85 201.36 99.11 201.36 C99.38 201.36 98.37 201.78 100 201.2 C101.63 200.62 107 198.5 110 197.5 C113 196.5 117.3 195.18 120 194.5 C122.7 193.82 125.75 193.22 128 193 C130.25 192.78 132.9 193.07 135 193 C137.1 192.93 139.75 192.43 142 192.5 C144.25 192.57 148.05 193.28 150 193.5 C151.95 193.72 153.12 193.81 155 194 C156.88 194.19 160.34 195.15 162.5 194.8 C164.66 194.46 168 192.72 169.4 191.7 C170.8 190.68 171.23 189.31 171.8 188 C172.37 186.69 172.81 185.7 173.2 183 C173.59 180.3 174.13 174.95 174.4 170 C174.67 165.05 174.81 156 175 150 C175.19 144 175.5 136 175.7 130 C175.89 124 176.14 115.7 176.3 110 C176.47 104.3 176.61 96.5 176.8 92 C177 87.5 177.36 82.62 177.6 80 C177.84 77.38 178.13 75.03 178.4 74.5 C178.67 73.97 179.09 77.62 179.4 76.5 C179.72 75.38 180.19 70.08 180.5 67 C180.81 63.92 181.2 58.62 181.5 56 C181.8 53.38 182.29 50.55 182.5 49.5 C182.71 48.45 182.75 48.92 182.9 49 C183.05 49.08 183.32 48.5 183.5 50 C183.68 51.5 183.91 55.4 184.1 59 C184.29 62.6 184.58 69.2 184.8 74 C185.03 78.8 185.34 86.5 185.6 91 C185.85 95.5 186.25 101.15 186.5 104 C186.75 106.85 187.08 108.65 187.3 110 C187.53 111.35 187.7 113.45 188 113 C188.3 112.55 188.96 109.1 189.3 107 C189.65 104.9 189.96 101.47 190.3 99 C190.65 96.53 191.31 90.35 191.6 90.5 C191.88 90.65 192.03 94.08 192.2 100 C192.36 105.92 192.55 121 192.7 130 C192.85 139 193.03 153.25 193.2 160 C193.36 166.75 193.62 171.55 193.8 175 C193.98 178.45 193.88 180.5 194.4 183 C194.93 185.5 196.31 190.27 197.3 191.7 C198.29 193.12 200.32 192.41 201 192.5 C201.68 192.59 201.58 192.31 201.83 192.32 C202.08 192.32 202.41 192.41 202.66 192.51 C202.91 192.61 203.24 192.92 203.49 192.99 C203.73 193.07 204.07 192.91 204.31 193.01 C204.56 193.1 204.89 193.54 205.14 193.63 C205.39 193.71 205.72 193.58 205.97 193.57 C206.22 193.57 206.55 193.62 206.8 193.6 C207.05 193.58 207.37 193.4 207.62 193.47 C207.87 193.54 208.19 194 208.44 194.05 C208.69 194.11 209.01 193.75 209.26 193.84 C209.51 193.94 209.83 194.56 210.08 194.68 C210.33 194.81 210.65 194.65 210.9 194.69 C211.15 194.72 211.47 194.92 211.72 194.94 C211.97 194.96 212.29 194.85 212.54 194.83 C212.79 194.81 213.11 194.7 213.36 194.79 C213.61 194.89 213.93 195.37 214.18 195.47 C214.43 195.58 214.75 195.45 215 195.5 C215.25 195.55 215.58 195.76 215.83 195.8 C216.08 195.83 216.42 195.72 216.67 195.72 C216.92 195.72 217.25 195.69 217.5 195.79 C217.75 195.9 218.08 196.35 218.33 196.42 C218.58 196.48 218.92 196.2 219.17 196.21 C219.42 196.23 219.75 196.41 220 196.5 C220.25 196.59 220.58 196.74 220.83 196.84 C221.08 196.95 221.42 197.13 221.67 197.19 C221.92 197.25 222.25 197.26 222.5 197.24 C222.75 197.22 223.08 196.99 223.33 197.07 C223.58 197.15 223.92 197.64 224.17 197.79 C224.42 197.94 224.75 198.02 225 198.08 C225.25 198.14 225.58 198.18 225.83 198.21 C226.08 198.24 226.42 198.31 226.67 198.29 C226.92 198.27 227.25 198.09 227.5 198.09 C227.75 198.09 228.08 198.16 228.33 198.29 C228.58 198.43 228.92 198.88 229.17 198.98 C229.42 199.09 229.75 199.02 230 199 C230.25 198.98 230.56 198.76 230.8 198.83 C231.04 198.9 231.36 199.42 231.6 199.46 C231.84 199.5 232.16 199.12 232.4 199.11 C232.64 199.09 232.96 199.34 233.2 199.37 C233.44 199.4 233.76 199.25 234 199.3 C234.24 199.36 234.56 199.64 234.8 199.72 C235.04 199.79 235.36 199.83 235.6 199.82 C235.84 199.81 236.16 199.64 236.4 199.65 C236.64 199.66 236.96 199.84 237.2 199.89 C237.44 199.94 237.76 199.94 238 199.99 C238.24 200.03 238.56 200.12 238.8 200.2 C239.04 200.27 239.36 200.48 239.6 200.48 C239.84 200.49 240.16 200.31 240.4 200.25 C240.64 200.18 240.96 199.98 241.2 200.07 C241.44 200.15 241.76 200.69 242 200.79 C242.24 200.9 242.56 200.8 242.8 200.75 C243.04 200.7 243.36 200.45 243.6 200.47 C243.84 200.5 244.16 200.9 244.4 200.92 C244.64 200.93 244.96 200.52 245.2 200.58 C245.44 200.65 245.76 201.29 246 201.35 C246.24 201.4 246.56 200.93 246.8 200.93 C247.04 200.93 247.36 201.33 247.6 201.37 C247.84 201.41 248.16 201.18 248.4 201.2 C248.64 201.22 248.96 201.43 249.2 201.48 C249.44 201.52 249.76 201.48 250 201.5 C250.24 201.52 250.57 201.52 250.81 201.59 C251.05 201.66 251.38 201.93 251.62 201.94 C251.86 201.95 252.19 201.64 252.43 201.64 C252.68 201.64 253 201.92 253.24 201.94 C253.49 201.96 253.81 201.81 254.05 201.77 C254.3 201.74 254.62 201.67 254.86 201.72 C255.11 201.77 255.43 202.11 255.68 202.1 C255.92 202.09 256.24 201.72 256.49 201.67 C256.73 201.62 257.05 201.73 257.3 201.76 C257.54 201.8 257.86 201.86 258.11 201.91 C258.35 201.96 258.68 202.06 258.92 202.1 C259.16 202.15 259.49 202.22 259.73 202.2 C259.97 202.19 260.3 202.03 260.54 201.99 C260.78 201.94 261.11 201.87 261.35 201.91 C261.59 201.96 261.92 202.26 262.16 202.29 C262.41 202.31 262.73 202.04 262.97 202.06 C263.22 202.09 263.54 202.34 263.78 202.45 C264.03 202.56 264.35 202.75 264.59 202.8 C264.84 202.84 265.16 202.82 265.41 202.75 C265.65 202.68 265.97 202.32 266.22 202.32 C266.46 202.31 266.78 202.68 267.03 202.72 C267.27 202.76 267.59 202.54 267.84 202.57 C268.08 202.61 268.41 202.9 268.65 202.95 C268.89 202.99 269.22 202.9 269.46 202.88 C269.7 202.85 270.03 202.8 270.27 202.78 C270.51 202.76 270.84 202.77 271.08 202.76 C271.32 202.75 271.65 202.66 271.89 202.71 C272.14 202.77 272.46 203.08 272.7 203.11 C272.95 203.13 273.27 202.86 273.51 202.88 C273.76 202.9 274.08 203.15 274.32 203.24 C274.57 203.33 274.89 203.51 275.14 203.49 C275.38 203.47 275.7 203.13 275.95 203.11 C276.19 203.1 276.51 203.34 276.76 203.4 C277 203.45 277.32 203.48 277.57 203.48 C277.81 203.48 278.14 203.37 278.38 203.41 C278.62 203.46 278.95 203.77 279.19 203.79 C279.43 203.8 279.76 203.59 280 203.5 C280.24 203.41 280.56 203.2 280.8 203.2 C281.04 203.21 281.36 203.51 281.6 203.54 C281.84 203.56 282.16 203.33 282.4 203.38 C282.64 203.43 282.96 203.82 283.2 203.89 C283.44 203.96 283.76 203.84 284 203.84 C284.24 203.85 284.56 203.93 284.8 203.92 C285.04 203.92 285.36 203.87 285.6 203.8 C285.84 203.73 286.16 203.51 286.4 203.47 C286.64 203.44 286.96 203.5 287.2 203.56 C287.44 203.62 287.76 203.74 288 203.85 C288.24 203.95 288.56 204.27 288.8 204.25 C289.04 204.23 289.36 203.78 289.6 203.72 C289.84 203.65 290.16 203.7 290.4 203.8 C290.64 203.9 290.96 204.35 291.2 204.39 C291.44 204.43 291.76 204.09 292 204.07 C292.24 204.05 292.56 204.22 292.8 204.25 C293.04 204.29 293.36 204.28 293.6 204.32 C293.84 204.36 294.16 204.48 294.4 204.5 C294.64 204.52 294.96 204.45 295.2 204.46 C295.44 204.47 295.76 204.6 296 204.57 C296.24 204.54 296.56 204.22 296.8 204.24 C297.04 204.26 297.36 204.66 297.6 204.72 C297.84 204.79 298.16 204.73 298.4 204.68 C298.64 204.63 298.96 204.42 299.2 204.39 C299.44 204.36 299.76 204.51 300 204.5 C300.24 204.49 300.56 204.35 300.8 204.32 C301.04 204.28 301.36 204.29 301.6 204.29 C301.84 204.29 302.16 204.29 302.4 204.31 C302.64 204.34 302.96 204.44 303.2 204.45 C303.44 204.46 303.76 204.36 304 204.38 C304.24 204.39 304.56 204.55 304.8 204.58 C305.04 204.61 305.36 204.53 305.6 204.57 C305.84 204.6 306.16 204.77 306.4 204.81 C306.64 204.85 306.96 204.88 307.2 204.83 C307.44 204.77 307.76 204.49 308 204.42 C308.24 204.36 308.56 204.36 308.8 204.42 C309.04 204.48 309.36 204.76 309.6 204.82 C309.84 204.89 310.16 204.85 310.4 204.88 C310.64 204.91 310.96 205.02 311.2 205.02 C311.44 205.02 311.76 204.88 312 204.88 C312.24 204.89 312.56 205.11 312.8 205.06 C313.04 205.01 313.36 204.55 313.6 204.55 C313.84 204.56 314.16 204.99 314.4 205.08 C314.64 205.18 314.96 205.27 315.2 205.19 C315.44 205.11 315.76 204.63 316 204.57 C316.24 204.5 316.56 204.64 316.8 204.74 C317.04 204.84 317.36 205.25 317.6 205.25 C317.84 205.25 318.16 204.78 318.4 204.75 C318.64 204.72 318.96 205 319.2 205.04 C319.44 205.07 319.73 205.04 320 205 C320.27 204.96 320.7 204.79 321 204.78 C321.3 204.78 321.7 204.9 322 204.97 C322.3 205.05 322.7 205.33 323 205.3 C323.3 205.27 323.7 204.87 324 204.8 C324.3 204.73 324.7 204.92 325 204.84 C325.3 204.75 325.7 204.42 326 204.2 C326.3 203.98 326.7 203.57 327 203.39 C327.3 203.21 327.7 202.95 328 203 C328.3 203.05 328.7 203.53 329 203.75 C329.3 203.98 329.73 204.33 330 204.5 C330.27 204.67 330.58 204.89 330.83 204.9 C331.08 204.92 331.42 204.68 331.67 204.62 C331.92 204.55 332.25 204.4 332.5 204.48 C332.75 204.56 333.08 205.09 333.33 205.16 C333.58 205.22 333.92 204.92 334.17 204.9 C334.42 204.88 334.75 205.07 335 205 C335.25 204.93 335.58 204.59 335.83 204.47 C336.08 204.34 336.42 204.26 336.67 204.18 C336.92 204.1 337.25 203.94 337.5 203.92 C337.75 203.89 338.08 204.09 338.33 204.02 C338.58 203.95 338.92 203.55 339.17 203.47 C339.42 203.4 339.73 203.6 340 203.5 C340.27 203.4 340.7 202.98 341 202.78 C341.3 202.59 341.7 202.4 342 202.21 C342.3 202.02 342.4 202.13 343 201.5 C343.6 200.87 345.37 200.93 346 198 C346.63 195.07 346.91 187.4 347.2 182 C347.49 176.6 347.72 166.5 347.9 162 C348.08 157.5 348.25 152 348.4 152 C348.55 152 348.73 158.55 348.9 162 C349.06 165.45 349.31 172.9 349.5 175 C349.69 177.1 350 176.45 350.2 176 C350.39 175.55 350.62 171.4 350.8 172 C350.98 172.6 351.19 176.85 351.4 180 C351.61 183.15 351.91 190 352.2 193 C352.49 196 352.84 198.65 353.3 200 C353.76 201.35 354.67 202.15 355.3 202 C355.93 201.85 356.87 200.35 357.5 199 C358.13 197.65 359 196.75 359.5 193 C360 189.25 360.45 180.45 360.8 174 C361.15 167.55 361.53 154.95 361.8 150 C362.07 145.05 362.38 142.65 362.6 141 C362.83 139.35 363.07 139 363.3 139 C363.53 139 363.86 139.05 364.1 141 C364.34 142.95 364.63 146.75 364.9 152 C365.17 157.25 365.55 170.3 365.9 176 C366.25 181.7 366.81 187.6 367.2 190 C367.59 192.4 368 192 368.5 192 C369 192 369.94 192.25 370.5 190 C371.06 187.75 371.85 180.45 372.2 177 C372.55 173.55 372.63 168.95 372.8 167 C372.97 165.05 373.13 163.55 373.3 164 C373.47 164.45 373.67 167.3 373.9 170 C374.12 172.7 374.41 178.85 374.8 182 C375.19 185.15 376.11 189.52 376.5 191 C376.89 192.48 377.11 191.6 377.38 191.86 C377.64 192.12 377.99 192.56 378.25 192.73 C378.51 192.91 378.86 192.83 379.12 193.02 C379.39 193.21 379.74 193.8 380 194 C380.26 194.2 380.58 194.24 380.83 194.35 C381.08 194.46 381.42 194.65 381.67 194.75 C381.92 194.86 382.25 194.91 382.5 195.05 C382.75 195.19 383.08 195.52 383.33 195.66 C383.58 195.81 383.92 195.89 384.17 196.02 C384.42 196.15 384.75 196.23 385 196.5 C385.25 196.77 385.58 197.5 385.83 197.83 C386.08 198.15 386.42 198.42 386.67 198.68 C386.92 198.94 387.25 199.18 387.5 199.54 C387.75 199.9 388.08 200.69 388.33 201.08 C388.58 201.46 388.92 201.8 389.17 202.09 C389.42 202.38 389.75 202.85 390 203 C390.25 203.15 390.56 203.03 390.8 203.09 C391.04 203.15 391.36 203.36 391.6 203.4 C391.84 203.44 392.16 203.39 392.4 203.34 C392.64 203.3 392.96 203.05 393.2 203.08 C393.44 203.1 393.76 203.52 394 203.52 C394.24 203.51 394.56 203.1 394.8 203.04 C395.04 202.97 395.36 203.05 395.6 203.11 C395.84 203.18 396.16 203.4 396.4 203.47 C396.64 203.55 396.96 203.61 397.2 203.61 C397.44 203.61 397.75 203.59 398 203.5 C398.25 203.41 398.58 203.17 398.83 203.04 C399.08 202.9 399.42 202.77 399.67 202.59 C399.92 202.41 400.25 202.09 400.5 201.87 C400.75 201.65 401.08 201.27 401.33 201.13 C401.58 200.98 401.92 201.07 402.17 200.9 C402.42 200.73 402.75 200.2 403 200 C403.25 199.8 403.6 199.75 403.86 199.6 C404.11 199.45 404.46 199.19 404.71 198.99 C404.97 198.78 405.31 198.45 405.57 198.23 C405.83 198.01 406.17 197.65 406.43 197.53 C406.69 197.4 407.03 197.51 407.29 197.38 C407.54 197.25 407.89 196.85 408.14 196.64 C408.4 196.43 408.74 196.07 409 196 C409.26 195.93 409.6 196.2 409.86 196.15 C410.11 196.11 410.46 195.69 410.71 195.68 C410.97 195.66 411.31 196 411.57 196.07 C411.83 196.14 412.17 196.17 412.43 196.14 C412.69 196.12 413.03 195.92 413.29 195.9 C413.54 195.88 413.89 196 414.14 196.02 C414.4 196.03 414.75 195.84 415 196 C415.25 196.16 415.56 196.8 415.8 197.06 C416.04 197.31 416.36 197.44 416.6 197.68 C416.84 197.91 417.16 198.41 417.4 198.61 C417.64 198.81 417.96 198.81 418.2 199.02 C418.44 199.23 418.76 199.73 419 200 C419.24 200.27 419.56 200.68 419.8 200.81 C420.04 200.94 420.36 200.7 420.6 200.88 C420.84 201.06 421.16 201.83 421.4 202.03 C421.64 202.23 421.96 202.07 422.2 202.21 C422.44 202.36 422.76 202.86 423 203 C423.24 203.14 423.57 203.08 423.82 203.12 C424.06 203.15 424.39 203.12 424.64 203.24 C424.88 203.36 425.21 203.75 425.45 203.9 C425.7 204.05 426.03 204.17 426.27 204.23 C426.52 204.3 426.85 204.36 427.09 204.34 C427.34 204.33 427.66 204.09 427.91 204.11 C428.15 204.14 428.48 204.45 428.73 204.53 C428.97 204.6 429.3 204.54 429.55 204.62 C429.79 204.71 430.12 205.05 430.36 205.12 C430.61 205.19 430.94 205.04 431.18 205.09 C431.43 205.15 431.75 205.45 432 205.5 C432.25 205.55 432.57 205.5 432.82 205.41 C433.06 205.33 433.39 204.98 433.64 204.94 C433.88 204.89 434.21 205.13 434.45 205.11 C434.7 205.1 435.03 204.88 435.27 204.83 C435.52 204.78 435.85 204.84 436.09 204.77 C436.34 204.71 436.66 204.54 436.91 204.4 C437.15 204.27 437.48 203.96 437.73 203.88 C437.97 203.8 438.3 203.91 438.55 203.88 C438.79 203.85 439.12 203.69 439.36 203.69 C439.61 203.69 439.94 203.89 440.18 203.86 C440.43 203.83 440.76 203.5 441 203.5 C441.24 203.5 441.56 203.77 441.8 203.84 C442.04 203.92 442.36 203.91 442.6 203.98 C442.84 204.05 443.16 204.21 443.4 204.3 C443.64 204.4 443.96 204.53 444.2 204.64 C444.44 204.74 444.76 204.98 445 205 C445.24 205.02 445.56 204.7 445.81 204.76 C446.05 204.81 446.37 205.3 446.61 205.37 C446.85 205.44 447.18 205.25 447.42 205.24 C447.66 205.23 447.98 205.37 448.23 205.31 C448.47 205.24 448.79 204.86 449.03 204.8 C449.27 204.75 449.6 204.94 449.84 204.95 C450.08 204.96 450.4 204.82 450.65 204.86 C450.89 204.91 451.21 205.19 451.45 205.23 C451.69 205.27 452.02 205.12 452.26 205.12 C452.5 205.11 452.82 205.16 453.06 205.17 C453.31 205.19 453.63 205.26 453.87 205.21 C454.11 205.16 454.44 204.89 454.68 204.86 C454.92 204.82 455.24 204.94 455.48 204.96 C455.73 204.97 456.05 204.91 456.29 204.93 C456.53 204.95 456.85 205.04 457.1 205.12 C457.34 205.2 457.66 205.42 457.9 205.47 C458.15 205.53 458.47 205.57 458.71 205.49 C458.95 205.42 459.27 205.03 459.52 204.96 C459.76 204.89 460.08 205.01 460.32 205.04 C460.56 205.08 460.89 205.14 461.13 205.19 C461.37 205.23 461.69 205.35 461.94 205.35 C462.18 205.34 462.5 205.11 462.74 205.14 C462.98 205.18 463.31 205.52 463.55 205.59 C463.79 205.66 464.11 205.65 464.35 205.61 C464.6 205.58 464.92 205.37 465.16 205.33 C465.4 205.3 465.73 205.35 465.97 205.38 C466.21 205.41 466.53 205.56 466.77 205.54 C467.02 205.51 467.34 205.25 467.58 205.2 C467.82 205.15 468.15 205.22 468.39 205.21 C468.63 205.21 468.95 205.13 469.19 205.17 C469.44 205.22 468.23 205.6 470 205.5 C471.77 205.4 478.75 205.03 481 204.5 C483.25 203.97 483.95 202.9 485 202 C486.05 201.1 487.3 199.85 488 198.5 C488.7 197.15 489.28 195.47 489.7 193 C490.12 190.53 490.49 185.45 490.8 182 C491.12 178.55 491.5 173.6 491.8 170 C492.1 166.4 492.55 161.3 492.8 158 C493.06 154.7 493.39 149.5 493.5 148" stroke="#2366d6" stroke-width="2.3" fill="none" stroke-linejoin="round" clip-path="url(#cm)"/>
<path d="M50 206.5 C50.12 206.54 50.57 206.81 50.81 206.8 C51.05 206.78 51.37 206.43 51.62 206.39 C51.86 206.35 52.18 206.52 52.42 206.54 C52.67 206.56 52.99 206.58 53.23 206.51 C53.47 206.45 53.8 206.19 54.04 206.11 C54.28 206.03 54.6 205.94 54.85 205.97 C55.09 206 55.41 206.31 55.65 206.3 C55.9 206.3 56.22 205.96 56.46 205.93 C56.7 205.89 57.03 206 57.27 206.07 C57.51 206.14 57.83 206.35 58.08 206.39 C58.32 206.43 58.64 206.43 58.88 206.34 C59.13 206.24 59.45 205.87 59.69 205.77 C59.93 205.68 60.26 205.71 60.5 205.71 C60.74 205.71 61.07 205.7 61.31 205.77 C61.55 205.83 61.87 206.19 62.12 206.15 C62.36 206.12 62.68 205.63 62.92 205.55 C63.17 205.48 63.49 205.66 63.73 205.65 C63.97 205.65 64.3 205.55 64.54 205.53 C64.78 205.51 65.1 205.48 65.35 205.51 C65.59 205.54 65.91 205.75 66.15 205.75 C66.4 205.74 66.72 205.49 66.96 205.47 C67.2 205.45 67.53 205.54 67.77 205.59 C68.01 205.64 68.33 205.76 68.58 205.78 C68.82 205.8 69.14 205.78 69.38 205.73 C69.63 205.69 69.95 205.51 70.19 205.48 C70.43 205.44 70.75 205.48 71 205.5 C71.25 205.52 71.59 205.61 71.85 205.58 C72.1 205.56 72.44 205.35 72.69 205.32 C72.95 205.29 73.28 205.45 73.54 205.38 C73.79 205.31 74.13 204.95 74.38 204.86 C74.64 204.78 74.98 204.83 75.23 204.83 C75.48 204.83 75.82 204.84 76.08 204.86 C76.33 204.89 76.67 205.04 76.92 205 C77.18 204.97 77.52 204.74 77.77 204.66 C78.02 204.58 78.36 204.52 78.62 204.44 C78.87 204.37 79.21 204.23 79.46 204.17 C79.72 204.12 80.05 204.12 80.31 204.08 C80.56 204.04 80.9 203.93 81.15 203.92 C81.41 203.9 81.75 203.93 82 204 C82.25 204.07 82.56 204.33 82.8 204.39 C83.04 204.45 83.36 204.37 83.6 204.37 C83.84 204.38 84.16 204.45 84.4 204.43 C84.64 204.4 84.96 204.22 85.2 204.22 C85.44 204.22 85.76 204.41 86 204.4 C86.24 204.39 86.56 204.17 86.8 204.16 C87.04 204.15 87.36 204.34 87.6 204.34 C87.84 204.34 88.16 204.14 88.4 204.15 C88.64 204.16 88.96 204.34 89.2 204.39 C89.44 204.45 89.75 204.53 90 204.5 C90.25 204.47 90.58 204.29 90.83 204.21 C91.08 204.13 91.42 203.95 91.67 203.99 C91.92 204.02 92.25 204.48 92.5 204.44 C92.75 204.41 93.08 203.8 93.33 203.75 C93.58 203.7 93.92 204.13 94.17 204.14 C94.42 204.14 94.75 203.84 95 203.8 C95.25 203.76 95.58 203.92 95.83 203.86 C96.08 203.79 96.42 203.39 96.67 203.35 C96.92 203.3 97.25 203.47 97.5 203.54 C97.75 203.61 98.08 203.79 98.33 203.81 C98.58 203.84 98.92 203.8 99.17 203.72 C99.42 203.65 98.38 203.81 100 203.3 C101.62 202.79 107 201.17 110 200.3 C113 199.43 117.3 198.18 120 197.5 C122.7 196.82 125.75 196.18 128 195.8 C130.25 195.43 132.9 195.07 135 195 C137.1 194.93 139.75 195.03 142 195.3 C144.25 195.57 148.05 196.43 150 196.8 C151.95 197.18 153.2 197.41 155 197.8 C156.8 198.19 159.75 199.62 162 199.4 C164.25 199.18 168.26 197.41 170 196.3 C171.74 195.19 172.86 194.44 173.6 192 C174.34 189.56 174.6 184.8 174.9 180 C175.2 175.2 175.38 166 175.6 160 C175.82 154 176.21 146 176.4 140 C176.59 134 176.77 126 176.9 120 C177.03 114 177.17 104.8 177.3 100 C177.44 95.2 177.59 91.15 177.8 88 C178.01 84.85 178.43 80.5 178.7 79 C178.97 77.5 179.31 79.35 179.6 78 C179.88 76.65 180.3 73.15 180.6 70 C180.9 66.85 181.31 60.08 181.6 57 C181.88 53.92 182.31 50.7 182.5 49.5 C182.69 48.3 182.75 48.85 182.9 49 C183.05 49.15 183.32 48.85 183.5 50.5 C183.68 52.15 183.91 56.33 184.1 60 C184.29 63.67 184.58 70.2 184.8 75 C185.03 79.8 185.34 87.5 185.6 92 C185.85 96.5 186.25 102 186.5 105 C186.75 108 187.08 110.65 187.3 112 C187.53 113.35 187.7 114.6 188 114 C188.3 113.4 188.96 110.25 189.3 108 C189.65 105.75 189.96 101.4 190.3 99 C190.65 96.6 191.31 91.85 191.6 92 C191.88 92.15 192.02 95.05 192.2 100 C192.38 104.95 192.64 116.75 192.8 125 C192.97 133.25 193.12 147.5 193.3 155 C193.48 162.5 193.75 170.5 194 175 C194.25 179.5 194.5 182.15 195 185 C195.5 187.85 196.4 192.57 197.3 194 C198.2 195.43 200.32 194.4 201 194.5 C201.68 194.6 201.6 194.62 201.86 194.69 C202.11 194.76 202.46 194.92 202.71 194.98 C202.97 195.03 203.31 195.08 203.57 195.07 C203.83 195.07 204.17 194.9 204.43 194.93 C204.69 194.95 205.03 195.17 205.29 195.25 C205.54 195.32 205.89 195.39 206.14 195.43 C206.4 195.46 206.75 195.48 207 195.5 C207.25 195.52 207.56 195.5 207.8 195.58 C208.04 195.65 208.36 195.97 208.6 196.02 C208.84 196.07 209.16 195.87 209.4 195.91 C209.64 195.95 209.96 196.27 210.2 196.27 C210.44 196.28 210.76 195.93 211 195.95 C211.24 195.96 211.56 196.32 211.8 196.36 C212.04 196.4 212.36 196.16 212.6 196.23 C212.84 196.3 213.16 196.67 213.4 196.8 C213.64 196.93 213.96 197.08 214.2 197.11 C214.44 197.14 214.75 196.99 215 197 C215.25 197.01 215.58 197.14 215.83 197.2 C216.08 197.25 216.42 197.32 216.67 197.38 C216.92 197.44 217.25 197.57 217.5 197.59 C217.75 197.6 218.08 197.45 218.33 197.48 C218.58 197.5 218.92 197.68 219.17 197.75 C219.42 197.83 219.75 197.92 220 198 C220.25 198.08 220.58 198.19 220.83 198.26 C221.08 198.34 221.42 198.48 221.67 198.52 C221.92 198.56 222.25 198.5 222.5 198.54 C222.75 198.59 223.08 198.76 223.33 198.82 C223.58 198.87 223.92 198.85 224.17 198.92 C224.42 198.99 224.75 199.19 225 199.29 C225.25 199.39 225.58 199.54 225.83 199.58 C226.08 199.62 226.42 199.48 226.67 199.55 C226.92 199.61 227.25 199.89 227.5 200 C227.75 200.12 228.08 200.28 228.33 200.33 C228.58 200.37 228.92 200.29 229.17 200.32 C229.42 200.34 229.75 200.41 230 200.5 C230.25 200.59 230.56 200.93 230.8 200.94 C231.04 200.95 231.36 200.54 231.6 200.57 C231.84 200.59 232.16 201.08 232.4 201.09 C232.64 201.11 232.96 200.71 233.2 200.68 C233.44 200.65 233.76 200.81 234 200.9 C234.24 201 234.56 201.33 234.8 201.32 C235.04 201.32 235.36 200.86 235.6 200.87 C235.84 200.88 236.16 201.26 236.4 201.38 C236.64 201.5 236.96 201.6 237.2 201.66 C237.44 201.72 237.76 201.8 238 201.81 C238.24 201.82 238.56 201.76 238.8 201.73 C239.04 201.69 239.36 201.6 239.6 201.59 C239.84 201.59 240.16 201.62 240.4 201.68 C240.64 201.74 240.96 201.99 241.2 201.99 C241.44 201.99 241.76 201.73 242 201.7 C242.24 201.66 242.56 201.65 242.8 201.77 C243.04 201.89 243.36 202.37 243.6 202.47 C243.84 202.56 244.16 202.43 244.4 202.39 C244.64 202.34 244.96 202.15 245.2 202.16 C245.44 202.17 245.76 202.41 246 202.45 C246.24 202.49 246.56 202.38 246.8 202.45 C247.04 202.53 247.36 202.93 247.6 202.96 C247.84 202.99 248.16 202.64 248.4 202.65 C248.64 202.67 248.96 203 249.2 203.06 C249.44 203.11 249.76 202.98 250 203 C250.24 203.02 250.57 203.22 250.81 203.22 C251.05 203.21 251.38 203.01 251.62 202.97 C251.86 202.93 252.19 202.94 252.43 202.97 C252.68 203.01 253 203.18 253.24 203.21 C253.49 203.24 253.81 203.15 254.05 203.17 C254.3 203.2 254.62 203.35 254.86 203.36 C255.11 203.36 255.43 203.18 255.68 203.22 C255.92 203.26 256.24 203.57 256.49 203.6 C256.73 203.62 257.05 203.44 257.3 203.38 C257.54 203.33 257.86 203.18 258.11 203.23 C258.35 203.28 258.68 203.63 258.92 203.73 C259.16 203.82 259.49 203.86 259.73 203.86 C259.97 203.87 260.3 203.78 260.54 203.76 C260.78 203.74 261.11 203.68 261.35 203.71 C261.59 203.75 261.92 203.93 262.16 203.99 C262.41 204.05 262.73 204.16 262.97 204.08 C263.22 204.01 263.54 203.52 263.78 203.48 C264.03 203.45 264.35 203.85 264.59 203.87 C264.84 203.88 265.16 203.59 265.41 203.59 C265.65 203.59 265.97 203.82 266.22 203.86 C266.46 203.89 266.78 203.81 267.03 203.84 C267.27 203.87 267.59 203.98 267.84 204.04 C268.08 204.1 268.41 204.19 268.65 204.24 C268.89 204.3 269.22 204.45 269.46 204.42 C269.7 204.39 270.03 204.12 270.27 204.05 C270.51 203.97 270.84 203.83 271.08 203.92 C271.32 204.02 271.65 204.57 271.89 204.66 C272.14 204.76 272.46 204.59 272.7 204.56 C272.95 204.53 273.27 204.5 273.51 204.45 C273.76 204.39 274.08 204.23 274.32 204.19 C274.57 204.15 274.89 204.09 275.14 204.19 C275.38 204.3 275.7 204.8 275.95 204.86 C276.19 204.93 276.51 204.62 276.76 204.63 C277 204.63 277.32 204.86 277.57 204.91 C277.81 204.95 278.14 204.9 278.38 204.9 C278.62 204.9 278.95 204.94 279.19 204.93 C279.43 204.91 279.76 204.78 280 204.8 C280.24 204.82 280.56 205.06 280.8 205.05 C281.04 205.03 281.36 204.75 281.6 204.7 C281.84 204.65 282.16 204.7 282.4 204.73 C282.64 204.76 282.96 204.83 283.2 204.9 C283.44 204.96 283.76 205.12 284 205.17 C284.24 205.22 284.56 205.21 284.8 205.22 C285.04 205.23 285.36 205.24 285.6 205.23 C285.84 205.22 286.16 205.16 286.4 205.14 C286.64 205.13 286.96 205.14 287.2 205.11 C287.44 205.08 287.76 204.92 288 204.95 C288.24 204.98 288.56 205.25 288.8 205.31 C289.04 205.37 289.36 205.34 289.6 205.34 C289.84 205.33 290.16 205.26 290.4 205.28 C290.64 205.3 290.96 205.4 291.2 205.46 C291.44 205.52 291.76 205.64 292 205.68 C292.24 205.71 292.56 205.77 292.8 205.69 C293.04 205.61 293.36 205.2 293.6 205.14 C293.84 205.08 294.16 205.24 294.4 205.3 C294.64 205.36 294.96 205.51 295.2 205.56 C295.44 205.62 295.76 205.68 296 205.65 C296.24 205.63 296.56 205.37 296.8 205.41 C297.04 205.44 297.36 205.86 297.6 205.89 C297.84 205.92 298.16 205.61 298.4 205.6 C298.64 205.59 298.96 205.83 299.2 205.85 C299.44 205.86 299.76 205.77 300 205.7 C300.24 205.63 300.56 205.42 300.8 205.4 C301.04 205.38 301.36 205.57 301.6 205.57 C301.84 205.57 302.16 205.34 302.4 205.4 C302.64 205.46 302.96 205.9 303.2 205.95 C303.44 206.01 303.76 205.75 304 205.78 C304.24 205.8 304.56 206.08 304.8 206.09 C305.04 206.1 305.36 205.92 305.6 205.86 C305.84 205.8 306.16 205.7 306.4 205.67 C306.64 205.65 306.96 205.7 307.2 205.71 C307.44 205.72 307.76 205.75 308 205.73 C308.24 205.72 308.56 205.65 308.8 205.62 C309.04 205.6 309.36 205.52 309.6 205.57 C309.84 205.62 310.16 205.94 310.4 205.96 C310.64 205.99 310.96 205.75 311.2 205.74 C311.44 205.72 311.76 205.8 312 205.85 C312.24 205.89 312.56 206.05 312.8 206.04 C313.04 206.02 313.36 205.77 313.6 205.75 C313.84 205.72 314.16 205.87 314.4 205.87 C314.64 205.88 314.96 205.81 315.2 205.8 C315.44 205.8 315.76 205.78 316 205.82 C316.24 205.86 316.56 206.09 316.8 206.07 C317.04 206.05 317.36 205.71 317.6 205.68 C317.84 205.66 318.16 205.9 318.4 205.91 C318.64 205.91 318.96 205.7 319.2 205.71 C319.44 205.73 319.75 205.96 320 206 C320.25 206.04 320.6 206.04 320.86 205.98 C321.11 205.91 321.46 205.58 321.71 205.57 C321.97 205.56 322.31 205.92 322.57 205.9 C322.83 205.87 323.17 205.49 323.43 205.42 C323.69 205.34 324.03 205.44 324.29 205.4 C324.54 205.36 324.89 205.22 325.14 205.16 C325.4 205.1 325.72 205.07 326 205 C326.28 204.93 326.7 204.87 327 204.72 C327.3 204.57 327.7 204.01 328 204 C328.3 203.99 328.7 204.49 329 204.64 C329.3 204.79 329.73 204.94 330 205 C330.27 205.06 330.58 205.09 330.83 205.02 C331.08 204.94 331.42 204.58 331.67 204.51 C331.92 204.43 332.25 204.45 332.5 204.5 C332.75 204.55 333.08 204.84 333.33 204.84 C333.58 204.85 333.92 204.57 334.17 204.52 C334.42 204.47 334.75 204.52 335 204.5 C335.25 204.48 335.58 204.53 335.83 204.42 C336.08 204.31 336.42 203.9 336.67 203.76 C336.92 203.62 337.25 203.59 337.5 203.48 C337.75 203.36 338.08 203.12 338.33 203 C338.58 202.89 338.92 202.89 339.17 202.74 C339.42 202.59 339.73 202.17 340 202 C340.27 201.83 340.7 201.71 341 201.61 C341.3 201.51 341.7 201.47 342 201.31 C342.3 201.14 342.4 201.3 343 200.5 C343.6 199.7 345.37 199.07 346 196 C346.63 192.93 346.91 185.4 347.2 180 C347.49 174.6 347.72 164.29 347.9 160 C348.08 155.71 348.25 151.4 348.4 151.4 C348.55 151.4 348.73 156.91 348.9 160 C349.06 163.09 349.31 170.2 349.5 172 C349.69 173.8 350 172.6 350.2 172 C350.39 171.4 350.62 167.7 350.8 168 C350.98 168.3 351.19 171 351.4 174 C351.61 177 351.91 184.55 352.2 188 C352.49 191.45 352.84 195.29 353.3 197 C353.76 198.71 354.67 199.4 355.3 199.4 C355.93 199.4 356.87 198.26 357.5 197 C358.13 195.74 359 195.05 359.5 191 C360 186.95 360.45 176.45 360.8 170 C361.15 163.55 361.53 152.5 361.8 148 C362.07 143.5 362.38 141.43 362.6 140 C362.83 138.57 363.07 138.5 363.3 138.5 C363.53 138.5 363.86 138.28 364.1 140 C364.34 141.72 364.63 145.2 364.9 150 C365.17 154.8 365.55 166.75 365.9 172 C366.25 177.25 366.81 182.7 367.2 185 C367.59 187.3 368 187.3 368.5 187.3 C369 187.3 369.94 187.59 370.5 185 C371.06 182.41 371.85 173.15 372.2 170 C372.55 166.85 372.63 165.2 372.8 164 C372.97 162.8 373.13 161.85 373.3 162 C373.47 162.15 373.67 163.05 373.9 165 C374.12 166.95 374.41 171.7 374.8 175 C375.19 178.3 376.11 185.08 376.5 187 C376.89 188.92 377.11 187.58 377.38 187.82 C377.64 188.06 377.99 188.36 378.25 188.59 C378.51 188.82 378.86 189.07 379.12 189.35 C379.39 189.64 379.74 190.33 380 190.5 C380.26 190.67 380.58 190.4 380.83 190.49 C381.08 190.58 381.42 191.02 381.67 191.11 C381.92 191.2 382.25 191.15 382.5 191.11 C382.75 191.07 383.08 190.86 383.33 190.85 C383.58 190.83 383.92 190.9 384.17 191 C384.42 191.1 384.65 191.5 385 191.5 C385.35 191.5 386.14 191.28 386.5 191 C386.86 190.72 387.1 189 387.4 189.6 C387.7 190.2 388.11 193.44 388.5 195 C388.89 196.56 389.64 199.25 390 200 C390.36 200.75 390.61 199.97 390.88 199.97 C391.14 199.98 391.49 200.04 391.75 200.03 C392.01 200.02 392.36 199.96 392.62 199.9 C392.89 199.85 393.24 199.67 393.5 199.66 C393.76 199.65 394.11 199.74 394.38 199.83 C394.64 199.92 394.99 200.22 395.25 200.26 C395.51 200.31 395.86 200.2 396.12 200.16 C396.39 200.12 396.72 200.14 397 200 C397.28 199.86 397.7 199.55 398 199.22 C398.3 198.9 398.7 198.17 399 197.84 C399.3 197.51 399.7 197.38 400 197 C400.3 196.62 400.7 195.87 401 195.28 C401.3 194.7 401.7 193.69 402 193.12 C402.3 192.55 402.7 191.99 403 191.5 C403.3 191.01 403.7 190.26 404 189.86 C404.3 189.46 404.7 189.25 405 188.82 C405.3 188.39 405.72 187.39 406 187 C406.28 186.61 406.6 186.44 406.85 186.25 C407.11 186.06 407.44 185.92 407.7 185.75 C407.95 185.59 408.29 185.3 408.55 185.15 C408.8 185.01 409.14 184.78 409.4 184.8 C409.66 184.82 410.01 185.2 410.27 185.29 C410.53 185.38 410.87 185.37 411.13 185.4 C411.39 185.43 411.72 185.5 412 185.5 C412.28 185.5 412.7 185.41 413 185.4 C413.3 185.38 413.7 185.47 414 185.41 C414.3 185.35 414.7 184.77 415 185 C415.3 185.23 415.7 186.33 416 186.97 C416.3 187.62 416.7 188.69 417 189.29 C417.3 189.89 417.7 190.45 418 191 C418.3 191.55 418.7 192.42 419 192.94 C419.3 193.47 419.73 194.18 420 194.5 C420.27 194.82 420.58 194.91 420.83 195.11 C421.08 195.31 421.42 195.57 421.67 195.82 C421.92 196.07 422.25 196.53 422.5 196.78 C422.75 197.02 423.08 197.21 423.33 197.46 C423.58 197.71 423.92 198.22 424.17 198.45 C424.42 198.68 424.74 198.83 425 199 C425.26 199.17 425.61 199.43 425.88 199.61 C426.14 199.78 426.49 200.02 426.75 200.17 C427.01 200.31 427.36 200.47 427.62 200.57 C427.89 200.67 428.24 200.67 428.5 200.83 C428.76 201 429.11 201.45 429.38 201.67 C429.64 201.9 429.99 202.2 430.25 202.34 C430.51 202.48 430.86 202.5 431.12 202.6 C431.39 202.7 431.74 202.94 432 203 C432.26 203.06 432.6 203.08 432.86 203 C433.11 202.93 433.46 202.63 433.71 202.53 C433.97 202.42 434.31 202.32 434.57 202.3 C434.83 202.28 435.17 202.39 435.43 202.39 C435.69 202.4 436.03 202.36 436.29 202.35 C436.54 202.34 436.89 202.35 437.14 202.3 C437.4 202.25 437.72 202.2 438 202 C438.28 201.8 438.7 201.28 439 200.98 C439.3 200.69 439.7 200.33 440 200.03 C440.3 199.73 440.71 199.39 441 199 C441.29 198.61 441.66 197.88 441.95 197.46 C442.24 197.04 442.61 196.56 442.9 196.18 C443.19 195.81 443.56 195.31 443.85 194.99 C444.14 194.66 444.53 193.79 444.8 194 C445.07 194.21 445.39 195.62 445.65 196.37 C445.9 197.12 446.15 198.01 446.5 199 C446.85 199.99 447.65 202.44 448 203 C448.35 203.56 448.56 202.79 448.8 202.72 C449.04 202.65 449.36 202.57 449.6 202.55 C449.84 202.53 450.16 202.6 450.4 202.59 C450.64 202.58 450.96 202.5 451.2 202.49 C451.44 202.47 451.73 203 452 202.5 C452.27 202 452.7 200.21 453 199.13 C453.3 198.05 453.62 194.87 454 195.3 C454.38 195.73 455.15 200.95 455.5 202 C455.85 203.05 456.08 202.25 456.33 202.3 C456.58 202.36 456.92 202.39 457.17 202.35 C457.42 202.3 457.75 202.31 458 202 C458.25 201.69 458.58 200.89 458.83 200.27 C459.08 199.64 459.42 198.45 459.67 197.86 C459.92 197.26 460.15 195.68 460.5 196.3 C460.85 196.92 461.62 201.07 462 202 C462.38 202.93 462.7 202.23 463 202.48 C463.3 202.74 463.7 203.46 464 203.68 C464.3 203.91 464.73 203.92 465 204 C465.27 204.08 465.58 204.16 465.83 204.22 C466.08 204.28 466.42 204.44 466.67 204.42 C466.92 204.39 467.25 204.08 467.5 204.04 C467.75 204 468.08 204.14 468.33 204.15 C468.58 204.17 468.92 204.08 469.17 204.14 C469.42 204.19 468.23 204.6 470 204.5 C471.77 204.4 478.75 204.03 481 203.5 C483.25 202.97 483.95 201.9 485 201 C486.05 200.1 487.31 198.85 488 197.5 C488.69 196.15 489.2 194.47 489.6 192 C490 189.53 490.38 184.45 490.7 181 C491.01 177.55 491.4 172.53 491.7 169 C492 165.47 492.43 160.65 492.7 157.5 C492.97 154.35 493.38 149.43 493.5 148" stroke="#42ad72" stroke-width="2.3" fill="none" stroke-linejoin="round" clip-path="url(#cm)"/>
<path d="M50.3 10 H493.4 V207 H50.3 Z" stroke="#333" stroke-width="2" fill="none"/>
<path d="M50.3 207 v5.5 M81.07 207 v3 M111.84 207 v5.5 M142.61 207 v3 M173.38 207 v5.5 M204.15 207 v3 M234.93 207 v5.5 M265.7 207 v3 M296.47 207 v5.5 M327.24 207 v3 M358.01 207 v5.5 M388.78 207 v3 M419.55 207 v5.5 M450.32 207 v3 M481.09 207 v5.5 M50.3 207 h-5.5 M50.3 174.17 h-3 M50.3 141.33 h-5.5 M50.3 108.5 h-3 M50.3 75.67 h-5.5 M50.3 42.83 h-3 M50.3 10 h-5.5" stroke="#222" stroke-width="1.6" fill="none"/>
<text x="50.3" y="231" font-size="16" fill="#222" text-anchor="middle">4000</text>
<text x="111.84" y="231" font-size="16" fill="#222" text-anchor="middle">3500</text>
<text x="173.38" y="231" font-size="16" fill="#222" text-anchor="middle">3000</text>
<text x="234.93" y="231" font-size="16" fill="#222" text-anchor="middle">2500</text>
<text x="296.47" y="231" font-size="16" fill="#222" text-anchor="middle">2000</text>
<text x="358.01" y="231" font-size="16" fill="#222" text-anchor="middle">1500</text>
<text x="419.55" y="231" font-size="16" fill="#222" text-anchor="middle">1000</text>
<text x="481.09" y="231" font-size="16" fill="#222" text-anchor="middle">500</text>
<text x="41.8" y="214" font-size="16.5" fill="#222" text-anchor="end">0. 0</text>
<text x="41.8" y="148.33" font-size="16.5" fill="#222" text-anchor="end">1. 0</text>
<text x="41.8" y="82.67" font-size="16.5" fill="#222" text-anchor="end">2. 0</text>
<text x="41.8" y="17" font-size="16.5" fill="#222" text-anchor="end">3. 0</text>
<text x="270.6" y="256.6" font-size="20" font-weight="bold" fill="#111" text-anchor="middle">Wavenumber (cm<tspan dy="-7" font-size="12">&#8722;1</tspan><tspan dy="7">)</tspan></text>
<text transform="translate(16.2 108.2) rotate(-90)" x="0" y="0" font-size="20" font-weight="bold" fill="#111" text-anchor="middle">Absorbance</text>
<rect x="324.7" y="10" width="168.7" height="64.6" fill="#fff" stroke="#2a2a2a" stroke-width="1.6"/>
<path d="M331 19 H360" stroke="#525252" stroke-width="2.4"/>
<text transform="translate(363.4 23.5) scale(0.98 1)" font-size="13" font-weight="bold" fill="#111">Mechanical-3000<tspan dx="1.7" font-size="12">r/min</tspan></text>
<path d="M331 34.7 H360" stroke="#e2585a" stroke-width="2.4"/>
<text transform="translate(363.4 39.3) scale(0.98 1)" font-size="13" font-weight="bold" fill="#111">Mechanical-1500<tspan dx="1.7" font-size="12">r/min</tspan></text>
<path d="M331 50.4 H360" stroke="#2366d6" stroke-width="2.4"/>
<text transform="translate(363.4 55.1) scale(0.98 1)" font-size="13" font-weight="bold" fill="#111">Mechanical-750<tspan dx="1.7" font-size="12">r/min</tspan></text>
<path d="M331 66.1 H360" stroke="#42ad72" stroke-width="2.4"/>
<text transform="translate(363.4 70.9) scale(0.98 1)" font-size="13" font-weight="bold" fill="#111">Mechanical-500<tspan dx="1.7" font-size="12">r/min</tspan></text>
<text x="225" y="92.6" font-size="15" fill="#3a3a3a">enlarge</text>
<text x="423.2" y="144.8" font-size="15" fill="#3a3a3a">enlarge</text>
<path d="M223.6 98.6 H504" stroke="#3c3c3c" stroke-width="2.2" stroke-dasharray="7 7" fill="none"/>
<path d="M396.1 155.7 H503" stroke="#3c3c3c" stroke-width="2.2" stroke-dasharray="7 7" fill="none"/>
<path d="M505 95.6 L519.8 98.6 L505 101.6 Z" fill="#111"/>
<path d="M503 152.6 L516.8 155.5 L503 158.4 Z" fill="#111"/>
<path d="M569.55 5.5 V110.2 M603.5 5.5 V110.2 M637.45 5.5 V110.2 M535.6 84.03 H671.4 M535.6 57.85 H671.4 M535.6 31.67 H671.4" stroke="#d2d2d2" stroke-width="0.9" stroke-dasharray="1 1.4" fill="none"/>
<path d="M551.5 118 C551.75 116.67 552.25 113.67 553 110 C553.75 106.33 554.83 101.17 556 96 C557.17 90.83 558.67 84.25 560 79 C561.33 73.75 562.75 68.33 564 64.5 C565.25 60.67 566.62 57.5 567.5 56 C568.38 54.5 568.55 55.08 569.3 55.5 C570.05 55.92 571.13 58.08 572 58.5 C572.87 58.92 573.58 59.08 574.5 58 C575.42 56.92 576.42 55 577.5 52 C578.58 49 579.92 44.33 581 40 C582.08 35.67 582.93 29.55 584 26 C585.07 22.45 586.32 19.03 587.4 18.7 C588.48 18.37 589.4 20.45 590.5 24 C591.6 27.55 592.38 34 594 40 C595.62 46 598.37 54.58 600.2 60 C602.03 65.42 603.37 68.33 605 72.5 C606.63 76.67 608.67 81.75 610 85 C611.33 88.25 612.03 90.38 613 92 C613.97 93.62 614.8 94.87 615.8 94.7 C616.8 94.53 617.97 92.78 619 91 C620.03 89.22 620.92 85.93 622 84 C623.08 82.07 624.33 80.48 625.5 79.4 C626.67 78.32 627.75 78.4 629 77.5 C630.25 76.6 631.67 75.17 633 74 C634.33 72.83 636 70.67 637 70.5 C638 70.33 638.42 71.42 639 73 C639.58 74.58 640 76.83 640.5 80 C641 83.17 641.5 88.17 642 92 C642.5 95.83 643.07 99.97 643.5 103 C643.93 106.03 644.27 107.7 644.6 110.2 C644.93 112.7 645.35 116.7 645.5 118" stroke="#525252" stroke-width="2.3" fill="none" stroke-linejoin="round" clip-path="url(#ct)"/>
<path d="M552 118 C552.22 116.67 552.55 113.67 553.3 110 C554.05 106.33 555.3 101.17 556.5 96 C557.7 90.83 559.17 84.17 560.5 79 C561.83 73.83 563.25 68.5 564.5 65 C565.75 61.5 567.12 59.25 568 58 C568.88 56.75 569.05 57.17 569.8 57.5 C570.55 57.83 571.63 59.67 572.5 60 C573.37 60.33 574.08 60.67 575 59.5 C575.92 58.33 576.92 55.75 578 53 C579.08 50.25 580.42 46.33 581.5 43 C582.58 39.67 583.5 35.45 584.5 33 C585.5 30.55 586.5 28.63 587.5 28.3 C588.5 27.97 589.48 29.05 590.5 31 C591.52 32.95 592.13 35.33 593.6 40 C595.07 44.67 597.57 53.92 599.3 59 C601.03 64.08 602.38 66.58 604 70.5 C605.62 74.42 607.58 79.42 609 82.5 C610.42 85.58 611.37 87.58 612.5 89 C613.63 90.42 614.72 91.25 615.8 91 C616.88 90.75 617.97 89.17 619 87.5 C620.03 85.83 620.92 82.67 622 81 C623.08 79.33 624.33 78.33 625.5 77.5 C626.67 76.67 627.75 77 629 76 C630.25 75 631.67 72.93 633 71.5 C634.33 70.07 636 67.65 637 67.4 C638 67.15 638.42 68.23 639 70 C639.58 71.77 640 74.5 640.5 78 C641 81.5 641.5 86.83 642 91 C642.5 95.17 643.03 99.8 643.5 103 C643.97 106.2 644.43 107.7 644.8 110.2 C645.17 112.7 645.55 116.7 645.7 118" stroke="#e2585a" stroke-width="2.3" fill="none" stroke-linejoin="round" clip-path="url(#ct)"/>
<path d="M551.2 118 C551.43 116.67 551.83 113.83 552.6 110 C553.37 106.17 554.6 100.33 555.8 95 C557 89.67 558.47 83.17 559.8 78 C561.13 72.83 562.6 67.5 563.8 64 C565 60.5 566.18 58.25 567 57 C567.82 55.75 568.03 56.33 568.7 56.5 C569.37 56.67 570.25 57.5 571 58 C571.75 58.5 572.37 59.75 573.2 59.5 C574.03 59.25 575.03 58.08 576 56.5 C576.97 54.92 578 52.25 579 50 C580 47.75 581 44.92 582 43 C583 41.08 584 39.5 585 38.5 C586 37.5 587 37 588 37 C589 37 590 37.5 591 38.5 C592 39.5 592.62 39.83 594 43 C595.38 46.17 597.63 53.17 599.3 57.5 C600.97 61.83 602.38 65.08 604 69 C605.62 72.92 607.58 78.25 609 81 C610.42 83.75 611.37 84.5 612.5 85.5 C613.63 86.5 614.72 87.42 615.8 87 C616.88 86.58 617.97 84.5 619 83 C620.03 81.5 620.92 79.08 622 78 C623.08 76.92 624.33 76.92 625.5 76.5 C626.67 76.08 627.75 76.25 629 75.5 C630.25 74.75 631.67 73.05 633 72 C634.33 70.95 636 69.2 637 69.2 C638 69.2 638.42 70.37 639 72 C639.58 73.63 640 75.83 640.5 79 C641 82.17 641.5 87 642 91 C642.5 95 643.03 99.8 643.5 103 C643.97 106.2 644.43 107.7 644.8 110.2 C645.17 112.7 645.55 116.7 645.7 118" stroke="#2366d6" stroke-width="2.3" fill="none" stroke-linejoin="round" clip-path="url(#ct)"/>
<path d="M552 118 C552.25 116.67 552.7 113.83 553.5 110 C554.3 106.17 555.58 100.33 556.8 95 C558.02 89.67 559.5 82.83 560.8 78 C562.1 73.17 563.4 68.83 564.6 66 C565.8 63.17 567.1 61.92 568 61 C568.9 60.08 569.33 60.25 570 60.5 C570.67 60.75 571.33 62 572 62.5 C572.67 63 573.17 63.92 574 63.5 C574.83 63.08 576 61.83 577 60 C578 58.17 579 55 580 52.5 C581 50 582.08 47 583 45 C583.92 43 584.67 41.57 585.5 40.5 C586.33 39.43 587.08 38.68 588 38.6 C588.92 38.52 590 39.02 591 40 C592 40.98 592.62 41.42 594 44.5 C595.38 47.58 597.63 54.25 599.3 58.5 C600.97 62.75 602.38 66.17 604 70 C605.62 73.83 607.58 78.83 609 81.5 C610.42 84.17 611.37 85 612.5 86 C613.63 87 614.72 87.83 615.8 87.5 C616.88 87.17 617.97 85.42 619 84 C620.03 82.58 620.92 80.08 622 79 C623.08 77.92 624.33 77.92 625.5 77.5 C626.67 77.08 627.75 77.17 629 76.5 C630.25 75.83 631.67 74.42 633 73.5 C634.33 72.58 636 70.92 637 71 C638 71.08 638.42 72.33 639 74 C639.58 75.67 640 78 640.5 81 C641 84 641.47 88.17 642 92 C642.53 95.83 643.2 100.97 643.7 104 C644.2 107.03 644.62 107.87 645 110.2 C645.38 112.53 645.83 116.7 646 118" stroke="#42ad72" stroke-width="2.3" fill="none" stroke-linejoin="round" clip-path="url(#ct)"/>
<path d="M535.6 5.5 H671.4 V110.2" stroke="#333" stroke-width="1.7" fill="none"/>
<path d="M535.6 5.5 V110.2 H671.4" stroke="#7a7a7a" stroke-width="1.8" fill="none"/>
<path d="M535.6 110.2 v2 M552.58 110.2 v1.6 M569.55 110.2 v2 M586.52 110.2 v1.6 M603.5 110.2 v2 M620.48 110.2 v1.6 M637.45 110.2 v2 M654.42 110.2 v1.6 M671.4 110.2 v2 M535.6 110.2 h-2 M535.6 97.11 h-1.6 M535.6 84.03 h-2 M535.6 70.94 h-1.6 M535.6 57.85 h-2 M535.6 44.76 h-1.6 M535.6 31.67 h-2 M535.6 18.59 h-1.6 M535.6 5.5 h-2" stroke="#555" stroke-width="1" fill="none"/>
<text transform="translate(535.6 124.4) scale(0.95 1)" font-size="14.5" font-weight="bold" fill="#111" text-anchor="middle">3000</text>
<text transform="translate(569.55 124.4) scale(0.95 1)" font-size="14.5" font-weight="bold" fill="#111" text-anchor="middle">2950</text>
<text transform="translate(603.5 124.4) scale(0.95 1)" font-size="14.5" font-weight="bold" fill="#111" text-anchor="middle">2900</text>
<text transform="translate(637.45 124.4) scale(0.95 1)" font-size="14.5" font-weight="bold" fill="#111" text-anchor="middle">2850</text>
<text transform="translate(671.4 124.4) scale(0.95 1)" font-size="14.5" font-weight="bold" fill="#111" text-anchor="middle">2800</text>
<text transform="translate(533.2 10.7) scale(0.92 1)" font-size="14.3" font-weight="bold" fill="#111" text-anchor="end">3.0</text>
<text transform="translate(533.2 36.88) scale(0.92 1)" font-size="14.3" font-weight="bold" fill="#111" text-anchor="end">2.5</text>
<text transform="translate(533.2 63.05) scale(0.92 1)" font-size="14.3" font-weight="bold" fill="#111" text-anchor="end">2.0</text>
<text transform="translate(533.2 89.23) scale(0.92 1)" font-size="14.3" font-weight="bold" fill="#111" text-anchor="end">1.5</text>
<text transform="translate(533.2 115.4) scale(0.92 1)" font-size="14.3" font-weight="bold" fill="#111" text-anchor="end">1.0</text>
<path d="M561.7 136.4 V240.5 M615.9 136.4 V240.5 M534.6 223.15 H670.1 M534.6 205.8 H670.1 M534.6 188.45 H670.1 M534.6 171.1 H670.1 M534.6 153.75 H670.1" stroke="#d2d2d2" stroke-width="0.9" stroke-dasharray="1 1.4" fill="none"/>
<path d="M534.5 217.6 L536 219 L537 217.68 L538 217 L539 218.37 L540 221 L541 220.02 L542 218.5 L543 219.48 L544 222 L545.5 219 L547 212 L548.5 219 L550 221 L551 219.56 L552 218 L553 215.76 L554 214 L555 211.7 L556 211 L557 209.51 L558 208 L559.15 205.57 L560.3 204.8 L561.15 206.18 L562 207.8 L563 206.13 L564 206 L565 203.76 L566 203 L567 203.86 L568 205 L569 207.59 L570 209 L571 207.82 L572 208 L573 208.84 L574 210.9 L575 212 L575.83 212.81 L576.67 212.14 L577.5 212 L578.33 211.65 L579.17 212.52 L580 211.5 L581 210.18 L582 210.5 L583 205.9 L584 200 L585.5 188 L586.5 182.5 L587.5 187 L589 203 L590.5 214 L592.4 219.8 L594 210 L595.5 185 L597 165 L599 153 L600.8 151 L602.5 155 L604.5 168 L606 190 L607.5 205 L609 205 L610 203.39 L611 201.89 L612 201.3 L613 203.96 L614 208 L615 210.16 L616 213 L617 209.57 L618 205 L619.5 193 L621 190 L622.3 187 L623.5 192 L624.45 194.43 L625.4 198 L626.27 201.48 L627.13 204.92 L628 208 L629 210.92 L630 214.3 L631 213.62 L632 211.98 L633 212 L634 210.04 L635 209.14 L636 208.5 L636.83 208.26 L637.67 207.24 L638.5 206.8 L639.3 206.44 L640.1 206.9 L640.9 206.64 L641.7 206.7 L642.85 207.49 L644 209 L645 211.2 L646 212.69 L647 214 L648.15 214.79 L649.3 216.5 L650.2 214.8 L651.1 212.88 L652 211 L653 209.34 L654 206.75 L655 204 L656 202.28 L657 202.2 L658 200 L659.1 198.81 L660.2 199 L661.13 199.85 L662.07 201.46 L663 202 L664 203.04 L665 205.31 L666 207 L667 207.92 L668 210.5 L669 211.47 L670 212.31 L671 212.5" stroke="#525252" stroke-width="2.2" fill="none" stroke-linejoin="round" clip-path="url(#cb)"/>
<path d="M534.5 237 L535.42 236.73 L536.33 236.6 L537.25 236.68 L538.17 236.43 L539.08 236.52 L540 236.5 L540.83 236.07 L541.67 236.19 L542.5 236.05 L543.33 235.73 L544.17 235.88 L545 235.5 L545.83 235.01 L546.67 235.5 L547.5 234.95 L548.33 234.6 L549.17 234.59 L550 234.5 L550.83 234.2 L551.67 233.65 L552.5 233.89 L553.33 233.6 L554.17 233.31 L555 233 L556 232.43 L557 231.95 L558 231 L559 230.29 L560 229.6 L561 227.84 L562 226 L563.5 215 L564.8 200 L565.9 185 L566.6 168 L567 160 L567.4 156.2 L567.8 160 L568.2 168 L568.8 185 L569.6 194 L570.4 196 L571.3 188 L572.5 179.1 L573.6 186 L574.6 200 L575.8 213 L577 222 L578.5 227 L580 229.5 L582.6 230.6 L585 229 L588 226 L591 220 L593 208 L594.5 190 L596.1 170 L598 157 L599.8 150.5 L600.8 149 L602 151 L604 160 L605.8 178 L607.2 195 L609 208 L612 215.5 L615.2 219.8 L617 216 L618.5 205 L620 193 L621.3 184 L622.3 181.5 L623.3 184 L624.5 195 L625.5 205 L627 211 L628 212.64 L629 213.94 L630 215 L630.83 215.6 L631.67 216.4 L632.5 217.78 L633.33 218.42 L634.17 218.83 L635 220 L635.83 220.38 L636.67 221.05 L637.5 221.69 L638.33 222.17 L639.17 222.78 L640 223.5 L640.83 223.96 L641.67 224.62 L642.5 224.89 L643.33 225.47 L644.17 225.24 L645 226 L645.83 226.1 L646.67 226.77 L647.5 226.81 L648.33 226.88 L649.17 227.08 L650 227.5 L650.83 227.24 L651.67 226.85 L652.5 226 L653.7 220.5 L655 226 L656 227.6 L657 229.18 L658 230.5 L658.8 230.87 L659.6 231.08 L660.4 231.06 L661.2 231.52 L662 231.5 L662.8 231.5 L663.6 231.59 L664.4 231.48 L665.2 230.95 L666 231 L666.83 230.92 L667.67 230.76 L668.5 230.48 L669.33 230.52 L670.17 230.92 L671 230.5" stroke="#e2585a" stroke-width="2.2" fill="none" stroke-linejoin="round" clip-path="url(#cb)"/>
<path d="M534.5 238.5 L535.42 238.47 L536.33 238.12 L537.25 238.58 L538.17 238.46 L539.08 238.06 L540 238 L540.83 238.03 L541.67 237.63 L542.5 237.56 L543.33 237.52 L544.17 237.72 L545 237.5 L545.83 237.13 L546.67 237.5 L547.5 236.7 L548.33 236.62 L549.17 236.38 L550 236.5 L550.83 236.52 L551.67 236.07 L552.5 235.98 L553.33 235.71 L554.17 235.76 L555 235.5 L556 235.27 L557 234.96 L558 235 L559 234.45 L560 234 L561 232.36 L562 231 L563.5 222 L564.8 208 L565.9 190 L566.6 177 L567 171 L567.4 168 L567.8 172 L568.2 182 L568.8 198 L569.6 208 L570.4 212 L571.3 205 L572.5 196 L573.6 202 L574.6 215 L575.8 225 L577 230 L578.5 233 L580 235 L582.6 235 L585 234 L588 232 L591 226 L593 213 L594.5 195 L596.1 173 L598 158 L599.8 151.5 L600.8 150.5 L602 152.5 L604 163 L605.8 184 L607.2 202 L609 215 L612 222.5 L615.2 226.3 L617 221 L618.5 206 L620 192 L621.3 185 L622.3 183 L623.3 186 L624.5 200 L626 217.6 L627 219.03 L628 221 L628.8 221.83 L629.6 222.33 L630.4 222.92 L631.2 223.67 L632 224 L632.8 224.43 L633.6 224.92 L634.4 225.45 L635.2 225.93 L636 226.5 L636.8 226.8 L637.6 226.51 L638.4 227.01 L639.2 227.24 L640 227.4 L640.83 227.64 L641.67 227.77 L642.5 228.59 L643.33 228.46 L644.17 229.2 L645 229.5 L645.83 229.51 L646.67 229.67 L647.5 230.03 L648.33 230.2 L649.17 230.51 L650 231 L650.83 231.25 L651.67 231.39 L652.5 231.25 L653.33 231.57 L654.17 231.57 L655 231.7 L656 232.13 L657 232.83 L658 233 L658.8 233.27 L659.6 234.06 L660.4 234.33 L661.2 234.73 L662 235 L662.8 234.75 L663.6 234.91 L664.4 234.97 L665.2 235.29 L666 235.5 L666.83 235.9 L667.67 235.93 L668.5 235.99 L669.33 235.57 L670.17 236.06 L671 236" stroke="#2366d6" stroke-width="2.2" fill="none" stroke-linejoin="round" clip-path="url(#cb)"/>
<path d="M534.5 237.5 L535.42 237.56 L536.33 237.61 L537.25 236.91 L538.17 237.48 L539.08 237.31 L540 237 L540.83 236.52 L541.67 236.88 L542.5 236.71 L543.33 236.11 L544.17 236.5 L545 236 L545.83 235.82 L546.67 235.8 L547.5 235.86 L548.33 235.8 L549.17 235.76 L550 235.5 L550.83 235.09 L551.67 234.99 L552.5 234.5 L553.33 234.34 L554.17 234.24 L555 234 L556 233.37 L557 233.23 L558 233 L559 232.72 L560 232 L561 230.28 L562 229 L563.5 220 L564.8 205 L565.9 188 L566.6 175 L567 169 L567.4 166.7 L567.8 169 L568.2 176 L568.8 190 L569.6 198 L570.4 200 L571.3 194 L572.5 188 L573.6 193 L574.6 205 L575.8 216 L577 225 L578.5 230 L580 231.5 L582.6 232.8 L585 231.5 L588 228.5 L591 222 L593 209 L594.5 191 L596.1 171 L598 157.5 L599.8 151 L600.8 149.6 L602 151.5 L604 161 L605.8 180 L607.2 196 L609 210 L612 217.5 L615.2 221 L617 217 L618.5 203 L620 190 L621.3 183 L622.3 181 L623.3 183 L624.5 195 L625.4 208 L627 213 L628 214.12 L629 215.01 L630 216.5 L631 217.5 L632 217.89 L633 219 L633.8 219.78 L634.6 221.17 L635.4 221.96 L636.2 223.04 L637 224 L637.86 224.43 L638.71 224.71 L639.57 225.02 L640.43 225.19 L641.29 225.54 L642.14 225.94 L643 226.5 L643.88 226.43 L644.75 226.6 L645.62 227.11 L646.5 226.75 L647.38 226.8 L648.25 227.01 L649.12 227.03 L650 227.4 L650.83 227 L651.67 226.45 L652.5 225.5 L653.7 218.7 L655 225 L656 227.44 L657 229.5 L658 230.18 L659 230.27 L660 230.6 L660.83 230.5 L661.67 230.39 L662.5 230.51 L663.33 230.15 L664.17 230.28 L665 230.2 L665.86 230.09 L666.71 230.26 L667.57 230.37 L668.43 230.2 L669.29 229.8 L670.14 230.09 L671 230" stroke="#42ad72" stroke-width="2.2" fill="none" stroke-linejoin="round" clip-path="url(#cb)"/>
<path d="M534.6 136.4 H670.1 V240.5" stroke="#333" stroke-width="1.7" fill="none"/>
<path d="M534.6 136.4 V240.5 H670.1" stroke="#555" stroke-width="1.7" fill="none"/>
<path d="M534.6 240.5 v2 M548.15 240.5 v1.6 M561.7 240.5 v2 M575.25 240.5 v1.6 M588.8 240.5 v2 M602.35 240.5 v1.6 M615.9 240.5 v2 M629.45 240.5 v1.6 M643 240.5 v2 M656.55 240.5 v1.6 M670.1 240.5 v2 M534.6 240.5 h-2 M534.6 231.82 h-1.6 M534.6 223.15 h-2 M534.6 214.47 h-1.6 M534.6 205.8 h-2 M534.6 197.12 h-1.6 M534.6 188.45 h-2 M534.6 179.77 h-1.6 M534.6 171.1 h-2 M534.6 162.43 h-1.6 M534.6 153.75 h-2 M534.6 145.07 h-1.6 M534.6 136.4 h-2" stroke="#555" stroke-width="1" fill="none"/>
<text transform="translate(561.7 255.2) scale(0.95 1)" font-size="14.5" font-weight="bold" fill="#111" text-anchor="middle">1600</text>
<text transform="translate(615.9 255.2) scale(0.95 1)" font-size="14.5" font-weight="bold" fill="#111" text-anchor="middle">1400</text>
<text transform="translate(670.1 255.2) scale(0.95 1)" font-size="14.5" font-weight="bold" fill="#111" text-anchor="middle">1200</text>
<text transform="translate(531.2 245.7) scale(0.92 1)" font-size="14.3" font-weight="bold" fill="#111" text-anchor="end">0.0</text>
<text transform="translate(531.2 228.35) scale(0.92 1)" font-size="14.3" font-weight="bold" fill="#111" text-anchor="end">0.2</text>
<text transform="translate(531.2 211) scale(0.92 1)" font-size="14.3" font-weight="bold" fill="#111" text-anchor="end">0.4</text>
<text transform="translate(531.2 193.65) scale(0.92 1)" font-size="14.3" font-weight="bold" fill="#111" text-anchor="end">0.6</text>
<text transform="translate(531.2 176.3) scale(0.92 1)" font-size="14.3" font-weight="bold" fill="#111" text-anchor="end">0.8</text>
<text transform="translate(531.2 158.95) scale(0.92 1)" font-size="14.3" font-weight="bold" fill="#111" text-anchor="end">1.0</text>
<text transform="translate(531.2 141.6) scale(0.92 1)" font-size="14.3" font-weight="bold" fill="#111" text-anchor="end">1.2</text>
</svg>
</body></html>
